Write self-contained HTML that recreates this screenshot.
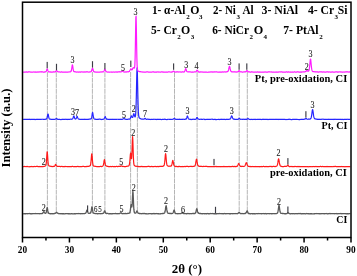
<!DOCTYPE html>
<html><head><meta charset="utf-8"><style>
html,body{margin:0;padding:0;background:#fff;width:357px;height:276px;overflow:hidden;}
svg{display:block;will-change:transform;}
text{font-family:"Liberation Serif",serif;}
</style></head><body>
<svg width="357" height="276" viewBox="0 0 357 276">
<line x1="47.4" y1="72" x2="47.4" y2="213.5" stroke="#a2a2a2" stroke-width="0.8" stroke-dasharray="5 0.6"/>
<line x1="56.3" y1="72" x2="56.3" y2="213.5" stroke="#a2a2a2" stroke-width="0.8" stroke-dasharray="5 0.6"/>
<line x1="92.4" y1="72" x2="92.4" y2="213.5" stroke="#a2a2a2" stroke-width="0.8" stroke-dasharray="5 0.6"/>
<line x1="104.9" y1="72" x2="104.9" y2="213.5" stroke="#a2a2a2" stroke-width="0.8" stroke-dasharray="5 0.6"/>
<line x1="130.6" y1="72" x2="130.6" y2="213.5" stroke="#a2a2a2" stroke-width="0.8" stroke-dasharray="5 0.6"/>
<line x1="137.4" y1="72" x2="137.4" y2="213.5" stroke="#a2a2a2" stroke-width="0.8" stroke-dasharray="5 0.6"/>
<line x1="174.5" y1="72" x2="174.5" y2="213.5" stroke="#a2a2a2" stroke-width="0.8" stroke-dasharray="5 0.6"/>
<line x1="197.1" y1="72" x2="197.1" y2="213.5" stroke="#a2a2a2" stroke-width="0.8" stroke-dasharray="5 0.6"/>
<line x1="239.2" y1="72" x2="239.2" y2="213.5" stroke="#a2a2a2" stroke-width="0.8" stroke-dasharray="5 0.6"/>
<line x1="247.3" y1="72" x2="247.3" y2="213.5" stroke="#a2a2a2" stroke-width="0.8" stroke-dasharray="5 0.6"/>
<path d="M23.10 213.59 L23.35 213.69 L23.60 213.73 L23.85 213.83 L24.10 213.72 L24.35 213.64 L24.60 213.73 L24.85 213.76 L25.10 213.68 L25.35 213.73 L25.60 213.69 L25.85 213.77 L26.10 213.64 L26.35 213.59 L26.60 213.74 L26.85 213.68 L27.10 213.62 L27.35 213.73 L27.60 213.75 L27.85 213.64 L28.10 213.67 L28.35 213.72 L28.60 213.62 L28.85 213.69 L29.10 213.59 L29.35 213.59 L29.60 213.52 L29.85 213.51 L30.10 213.71 L30.35 213.68 L30.60 213.81 L30.85 213.75 L31.10 213.75 L31.35 213.83 L31.60 213.82 L31.85 213.67 L32.10 213.70 L32.35 213.73 L32.60 213.63 L32.85 213.55 L33.10 213.70 L33.35 213.70 L33.60 213.62 L33.85 213.63 L34.10 213.58 L34.35 213.70 L34.60 213.70 L34.85 213.59 L35.10 213.71 L35.35 213.59 L35.60 213.57 L35.85 213.49 L36.10 213.63 L36.35 213.55 L36.60 213.61 L36.85 213.53 L37.10 213.58 L37.35 213.67 L37.60 213.68 L37.85 213.67 L38.10 213.67 L38.35 213.65 L38.60 213.68 L38.85 213.57 L39.10 213.60 L39.35 213.55 L39.60 213.69 L39.85 213.79 L40.10 213.62 L40.35 213.53 L40.60 213.63 L40.85 213.64 L41.10 213.50 L41.35 213.59 L41.60 213.70 L41.85 213.62 L42.10 213.52 L42.35 213.48 L42.60 213.47 L42.85 213.13 L43.10 212.69 L43.35 212.13 L43.60 211.74 L43.85 211.60 L44.10 211.83 L44.35 212.32 L44.60 212.66 L44.85 212.96 L45.10 213.29 L45.35 213.33 L45.60 213.21 L45.85 213.19 L46.10 212.75 L46.35 211.93 L46.60 210.56 L46.85 208.89 L47.10 207.61 L47.35 207.79 L47.60 209.41 L47.85 210.97 L48.10 212.10 L48.35 212.84 L48.60 213.29 L48.85 213.36 L49.10 213.51 L49.35 213.50 L49.60 213.55 L49.85 213.59 L50.10 213.71 L50.35 213.74 L50.60 213.70 L50.85 213.76 L51.10 213.67 L51.35 213.63 L51.60 213.75 L51.85 213.72 L52.10 213.76 L52.35 213.67 L52.60 213.77 L52.85 213.75 L53.10 213.64 L53.35 213.75 L53.60 213.70 L53.85 213.63 L54.10 213.56 L54.35 213.47 L54.60 213.44 L54.85 213.53 L55.10 213.40 L55.35 213.29 L55.60 213.14 L55.85 212.89 L56.10 212.50 L56.35 212.29 L56.60 212.17 L56.85 212.43 L57.10 212.81 L57.35 213.06 L57.60 213.25 L57.85 213.34 L58.10 213.53 L58.35 213.49 L58.60 213.60 L58.85 213.55 L59.10 213.63 L59.35 213.69 L59.60 213.64 L59.85 213.77 L60.10 213.77 L60.35 213.75 L60.60 213.60 L60.85 213.61 L61.10 213.57 L61.35 213.61 L61.60 213.75 L61.85 213.82 L62.10 213.65 L62.35 213.71 L62.60 213.81 L62.85 213.77 L63.10 213.63 L63.35 213.75 L63.60 213.71 L63.85 213.82 L64.10 213.87 L64.35 213.88 L64.60 213.92 L64.85 213.71 L65.10 213.78 L65.35 213.69 L65.60 213.59 L65.85 213.60 L66.10 213.66 L66.35 213.54 L66.60 213.59 L66.85 213.70 L67.10 213.70 L67.35 213.70 L67.60 213.64 L67.85 213.78 L68.10 213.68 L68.35 213.73 L68.60 213.75 L68.85 213.60 L69.10 213.76 L69.35 213.66 L69.60 213.80 L69.85 213.87 L70.10 213.90 L70.35 213.91 L70.60 213.80 L70.85 213.74 L71.10 213.68 L71.35 213.80 L71.60 213.63 L71.85 213.56 L72.10 213.73 L72.35 213.79 L72.60 213.81 L72.85 213.88 L73.10 213.81 L73.35 213.85 L73.60 213.77 L73.85 213.84 L74.10 213.67 L74.35 213.66 L74.60 213.69 L74.85 213.76 L75.10 213.71 L75.35 213.75 L75.60 213.85 L75.85 213.76 L76.10 213.65 L76.35 213.54 L76.60 213.69 L76.85 213.68 L77.10 213.65 L77.35 213.67 L77.60 213.57 L77.85 213.54 L78.10 213.53 L78.35 213.52 L78.60 213.68 L78.85 213.61 L79.10 213.53 L79.35 213.68 L79.60 213.69 L79.85 213.56 L80.10 213.65 L80.35 213.70 L80.60 213.73 L80.85 213.77 L81.10 213.71 L81.35 213.61 L81.60 213.69 L81.85 213.71 L82.10 213.74 L82.35 213.61 L82.60 213.59 L82.85 213.65 L83.10 213.61 L83.35 213.64 L83.60 213.61 L83.85 213.67 L84.10 213.59 L84.35 213.57 L84.60 213.63 L84.85 213.51 L85.10 213.38 L85.35 213.36 L85.60 213.11 L85.85 212.95 L86.10 212.39 L86.35 211.81 L86.60 210.97 L86.85 210.22 L87.10 210.17 L87.35 210.78 L87.60 211.56 L87.85 212.31 L88.10 212.78 L88.35 213.22 L88.60 213.26 L88.85 213.42 L89.10 213.30 L89.35 213.34 L89.60 213.23 L89.85 213.15 L90.10 213.19 L90.35 213.22 L90.60 212.91 L90.85 212.41 L91.10 211.54 L91.35 210.18 L91.60 208.39 L91.85 206.90 L92.10 206.86 L92.35 208.13 L92.60 209.84 L92.85 211.42 L93.10 212.52 L93.35 212.98 L93.60 213.10 L93.85 213.22 L94.10 213.45 L94.35 213.39 L94.60 213.38 L94.85 213.53 L95.10 213.45 L95.35 213.60 L95.60 213.53 L95.85 213.53 L96.10 213.59 L96.35 213.50 L96.60 213.62 L96.85 213.61 L97.10 213.69 L97.35 213.74 L97.60 213.59 L97.85 213.69 L98.10 213.76 L98.35 213.65 L98.60 213.67 L98.85 213.58 L99.10 213.62 L99.35 213.70 L99.60 213.64 L99.85 213.65 L100.10 213.55 L100.35 213.68 L100.60 213.70 L100.85 213.76 L101.10 213.59 L101.35 213.67 L101.60 213.54 L101.85 213.58 L102.10 213.51 L102.35 213.63 L102.60 213.49 L102.85 213.47 L103.10 213.43 L103.35 213.29 L103.60 212.96 L103.85 212.64 L104.10 212.14 L104.35 211.31 L104.60 210.86 L104.85 210.84 L105.10 211.40 L105.35 212.15 L105.60 212.89 L105.85 213.31 L106.10 213.50 L106.35 213.43 L106.60 213.49 L106.85 213.42 L107.10 213.38 L107.35 213.45 L107.60 213.46 L107.85 213.43 L108.10 213.52 L108.35 213.65 L108.60 213.76 L108.85 213.83 L109.10 213.74 L109.35 213.62 L109.60 213.76 L109.85 213.70 L110.10 213.65 L110.35 213.74 L110.60 213.73 L110.85 213.82 L111.10 213.81 L111.35 213.87 L111.60 213.70 L111.85 213.81 L112.10 213.76 L112.35 213.78 L112.60 213.68 L112.85 213.61 L113.10 213.58 L113.35 213.53 L113.60 213.71 L113.85 213.59 L114.10 213.56 L114.35 213.64 L114.60 213.57 L114.85 213.54 L115.10 213.52 L115.35 213.51 L115.60 213.44 L115.85 213.60 L116.10 213.67 L116.35 213.62 L116.60 213.74 L116.85 213.72 L117.10 213.62 L117.35 213.76 L117.60 213.65 L117.85 213.73 L118.10 213.78 L118.35 213.59 L118.60 213.70 L118.85 213.65 L119.10 213.63 L119.35 213.72 L119.60 213.63 L119.85 213.46 L120.10 213.23 L120.35 213.18 L120.60 212.91 L120.85 212.76 L121.10 212.75 L121.35 213.03 L121.60 213.33 L121.85 213.57 L122.10 213.61 L122.35 213.74 L122.60 213.64 L122.85 213.54 L123.10 213.60 L123.35 213.48 L123.60 213.66 L123.85 213.60 L124.10 213.58 L124.35 213.54 L124.60 213.52 L124.85 213.56 L125.10 213.65 L125.35 213.50 L125.60 213.49 L125.85 213.45 L126.10 213.62 L126.35 213.57 L126.60 213.54 L126.85 213.65 L127.10 213.56 L127.35 213.49 L127.60 213.45 L127.85 213.36 L128.10 213.42 L128.35 213.32 L128.60 213.29 L128.85 213.25 L129.10 213.23 L129.35 213.12 L129.60 212.82 L129.85 212.44 L130.10 211.59 L130.35 210.11 L130.60 207.99 L130.85 205.74 L131.10 204.54 L131.35 205.29 L131.60 206.60 L131.85 207.02 L132.10 205.08 L132.35 200.56 L132.60 194.71 L132.85 191.27 L133.10 193.09 L133.35 198.88 L133.60 204.93 L133.85 209.18 L134.10 211.50 L134.35 212.46 L134.60 212.74 L134.85 213.04 L135.10 212.97 L135.35 212.99 L135.60 213.08 L135.85 212.99 L136.10 212.65 L136.35 212.24 L136.60 211.54 L136.85 210.98 L137.10 210.94 L137.35 211.52 L137.60 211.97 L137.85 212.50 L138.10 212.93 L138.35 213.12 L138.60 213.40 L138.85 213.36 L139.10 213.33 L139.35 213.56 L139.60 213.44 L139.85 213.42 L140.10 213.47 L140.35 213.62 L140.60 213.57 L140.85 213.61 L141.10 213.70 L141.35 213.70 L141.60 213.76 L141.85 213.58 L142.10 213.62 L142.35 213.50 L142.60 213.65 L142.85 213.52 L143.10 213.47 L143.35 213.52 L143.60 213.61 L143.85 213.50 L144.10 213.60 L144.35 213.52 L144.60 213.53 L144.85 213.46 L145.10 213.60 L145.35 213.71 L145.60 213.77 L145.85 213.68 L146.10 213.61 L146.35 213.75 L146.60 213.80 L146.85 213.87 L147.10 213.77 L147.35 213.83 L147.60 213.81 L147.85 213.83 L148.10 213.77 L148.35 213.81 L148.60 213.75 L148.85 213.66 L149.10 213.66 L149.35 213.54 L149.60 213.64 L149.85 213.61 L150.10 213.55 L150.35 213.68 L150.60 213.68 L150.85 213.63 L151.10 213.76 L151.35 213.84 L151.60 213.76 L151.85 213.74 L152.10 213.58 L152.35 213.58 L152.60 213.75 L152.85 213.72 L153.10 213.83 L153.35 213.64 L153.60 213.53 L153.85 213.47 L154.10 213.44 L154.35 213.60 L154.60 213.76 L154.85 213.79 L155.10 213.77 L155.35 213.70 L155.60 213.66 L155.85 213.56 L156.10 213.58 L156.35 213.51 L156.60 213.66 L156.85 213.67 L157.10 213.64 L157.35 213.74 L157.60 213.66 L157.85 213.76 L158.10 213.77 L158.35 213.76 L158.60 213.74 L158.85 213.74 L159.10 213.81 L159.35 213.88 L159.60 213.80 L159.85 213.86 L160.10 213.70 L160.35 213.78 L160.60 213.82 L160.85 213.77 L161.10 213.60 L161.35 213.70 L161.60 213.63 L161.85 213.56 L162.10 213.68 L162.35 213.52 L162.60 213.56 L162.85 213.46 L163.10 213.56 L163.35 213.42 L163.60 213.29 L163.85 213.28 L164.10 213.21 L164.35 213.15 L164.60 212.80 L164.85 212.23 L165.10 211.29 L165.35 209.93 L165.60 208.05 L165.85 206.39 L166.10 205.73 L166.35 206.53 L166.60 208.16 L166.85 209.96 L167.10 211.27 L167.35 212.23 L167.60 212.85 L167.85 212.99 L168.10 213.23 L168.35 213.44 L168.60 213.40 L168.85 213.40 L169.10 213.50 L169.35 213.42 L169.60 213.41 L169.85 213.50 L170.10 213.53 L170.35 213.45 L170.60 213.42 L170.85 213.47 L171.10 213.60 L171.35 213.49 L171.60 213.55 L171.85 213.54 L172.10 213.44 L172.35 213.39 L172.60 213.41 L172.85 213.10 L173.10 212.79 L173.35 212.20 L173.60 211.28 L173.85 210.46 L174.10 210.02 L174.35 210.45 L174.60 211.22 L174.85 212.14 L175.10 212.86 L175.35 213.30 L175.60 213.56 L175.85 213.51 L176.10 213.62 L176.35 213.58 L176.60 213.65 L176.85 213.63 L177.10 213.69 L177.35 213.64 L177.60 213.76 L177.85 213.70 L178.10 213.75 L178.35 213.62 L178.60 213.69 L178.85 213.59 L179.10 213.59 L179.35 213.58 L179.60 213.65 L179.85 213.66 L180.10 213.59 L180.35 213.71 L180.60 213.55 L180.85 213.55 L181.10 213.42 L181.35 213.28 L181.60 213.12 L181.85 213.09 L182.10 212.71 L182.35 212.67 L182.60 212.76 L182.85 213.08 L183.10 213.37 L183.35 213.40 L183.60 213.63 L183.85 213.56 L184.10 213.50 L184.35 213.49 L184.60 213.61 L184.85 213.65 L185.10 213.70 L185.35 213.61 L185.60 213.63 L185.85 213.60 L186.10 213.75 L186.35 213.73 L186.60 213.76 L186.85 213.71 L187.10 213.59 L187.35 213.52 L187.60 213.51 L187.85 213.63 L188.10 213.57 L188.35 213.60 L188.60 213.59 L188.85 213.52 L189.10 213.55 L189.35 213.59 L189.60 213.73 L189.85 213.78 L190.10 213.71 L190.35 213.64 L190.60 213.58 L190.85 213.57 L191.10 213.61 L191.35 213.75 L191.60 213.60 L191.85 213.53 L192.10 213.55 L192.35 213.60 L192.60 213.49 L192.85 213.41 L193.10 213.50 L193.35 213.41 L193.60 213.56 L193.85 213.60 L194.10 213.56 L194.35 213.65 L194.60 213.56 L194.85 213.58 L195.10 213.34 L195.35 213.02 L195.60 212.66 L195.85 212.07 L196.10 211.19 L196.35 209.93 L196.60 209.01 L196.85 208.66 L197.10 209.45 L197.35 210.62 L197.60 211.73 L197.85 212.37 L198.10 212.78 L198.35 213.01 L198.60 213.23 L198.85 213.24 L199.10 213.28 L199.35 213.29 L199.60 213.54 L199.85 213.56 L200.10 213.52 L200.35 213.47 L200.60 213.48 L200.85 213.44 L201.10 213.60 L201.35 213.73 L201.60 213.79 L201.85 213.62 L202.10 213.67 L202.35 213.76 L202.60 213.69 L202.85 213.76 L203.10 213.59 L203.35 213.63 L203.60 213.71 L203.85 213.68 L204.10 213.57 L204.35 213.74 L204.60 213.80 L204.85 213.69 L205.10 213.75 L205.35 213.63 L205.60 213.68 L205.85 213.74 L206.10 213.74 L206.35 213.70 L206.60 213.78 L206.85 213.72 L207.10 213.59 L207.35 213.54 L207.60 213.51 L207.85 213.65 L208.10 213.55 L208.35 213.73 L208.60 213.73 L208.85 213.60 L209.10 213.75 L209.35 213.86 L209.60 213.72 L209.85 213.72 L210.10 213.64 L210.35 213.56 L210.60 213.50 L210.85 213.68 L211.10 213.61 L211.35 213.56 L211.60 213.53 L211.85 213.54 L212.10 213.72 L212.35 213.63 L212.60 213.57 L212.85 213.50 L213.10 213.63 L213.35 213.55 L213.60 213.69 L213.85 213.81 L214.10 213.70 L214.35 213.69 L214.60 213.77 L214.85 213.74 L215.10 213.67 L215.35 213.79 L215.60 213.88 L215.85 213.74 L216.10 213.81 L216.35 213.64 L216.60 213.75 L216.85 213.69 L217.10 213.82 L217.35 213.64 L217.60 213.59 L217.85 213.60 L218.10 213.64 L218.35 213.73 L218.60 213.62 L218.85 213.53 L219.10 213.53 L219.35 213.49 L219.60 213.69 L219.85 213.70 L220.10 213.62 L220.35 213.60 L220.60 213.58 L220.85 213.61 L221.10 213.60 L221.35 213.67 L221.60 213.60 L221.85 213.69 L222.10 213.80 L222.35 213.82 L222.60 213.66 L222.85 213.67 L223.10 213.76 L223.35 213.62 L223.60 213.77 L223.85 213.63 L224.10 213.55 L224.35 213.48 L224.60 213.66 L224.85 213.55 L225.10 213.60 L225.35 213.66 L225.60 213.67 L225.85 213.81 L226.10 213.79 L226.35 213.62 L226.60 213.62 L226.85 213.56 L227.10 213.72 L227.35 213.64 L227.60 213.70 L227.85 213.68 L228.10 213.67 L228.35 213.69 L228.60 213.63 L228.85 213.69 L229.10 213.72 L229.35 213.79 L229.60 213.83 L229.85 213.67 L230.10 213.76 L230.35 213.69 L230.60 213.81 L230.85 213.78 L231.10 213.67 L231.35 213.68 L231.60 213.70 L231.85 213.70 L232.10 213.66 L232.35 213.69 L232.60 213.70 L232.85 213.77 L233.10 213.70 L233.35 213.68 L233.60 213.55 L233.85 213.67 L234.10 213.56 L234.35 213.70 L234.60 213.70 L234.85 213.71 L235.10 213.66 L235.35 213.68 L235.60 213.57 L235.85 213.52 L236.10 213.58 L236.35 213.56 L236.60 213.59 L236.85 213.61 L237.10 213.73 L237.35 213.72 L237.60 213.52 L237.85 213.53 L238.10 213.36 L238.35 213.08 L238.60 212.77 L238.85 212.53 L239.10 212.32 L239.35 212.30 L239.60 212.69 L239.85 213.02 L240.10 213.19 L240.35 213.45 L240.60 213.64 L240.85 213.70 L241.10 213.62 L241.35 213.62 L241.60 213.53 L241.85 213.51 L242.10 213.45 L242.35 213.65 L242.60 213.70 L242.85 213.67 L243.10 213.71 L243.35 213.73 L243.60 213.68 L243.85 213.59 L244.10 213.59 L244.35 213.60 L244.60 213.55 L244.85 213.47 L245.10 213.50 L245.35 213.50 L245.60 213.31 L245.85 213.04 L246.10 212.82 L246.35 212.42 L246.60 211.76 L246.85 211.14 L247.10 210.85 L247.35 211.05 L247.60 211.69 L247.85 212.33 L248.10 212.97 L248.35 213.16 L248.60 213.50 L248.85 213.46 L249.10 213.47 L249.35 213.55 L249.60 213.70 L249.85 213.77 L250.10 213.79 L250.35 213.77 L250.60 213.79 L250.85 213.69 L251.10 213.56 L251.35 213.62 L251.60 213.57 L251.85 213.60 L252.10 213.70 L252.35 213.81 L252.60 213.66 L252.85 213.78 L253.10 213.67 L253.35 213.68 L253.60 213.76 L253.85 213.77 L254.10 213.71 L254.35 213.80 L254.60 213.67 L254.85 213.76 L255.10 213.86 L255.35 213.88 L255.60 213.70 L255.85 213.67 L256.10 213.57 L256.35 213.57 L256.60 213.59 L256.85 213.54 L257.10 213.59 L257.35 213.72 L257.60 213.75 L257.85 213.67 L258.10 213.58 L258.35 213.52 L258.60 213.67 L258.85 213.61 L259.10 213.66 L259.35 213.59 L259.60 213.68 L259.85 213.58 L260.10 213.61 L260.35 213.63 L260.60 213.66 L260.85 213.59 L261.10 213.68 L261.35 213.80 L261.60 213.68 L261.85 213.57 L262.10 213.56 L262.35 213.57 L262.60 213.71 L262.85 213.58 L263.10 213.50 L263.35 213.59 L263.60 213.62 L263.85 213.57 L264.10 213.67 L264.35 213.65 L264.60 213.79 L264.85 213.67 L265.10 213.68 L265.35 213.59 L265.60 213.52 L265.85 213.71 L266.10 213.80 L266.35 213.82 L266.60 213.77 L266.85 213.78 L267.10 213.67 L267.35 213.59 L267.60 213.55 L267.85 213.54 L268.10 213.57 L268.35 213.61 L268.60 213.58 L268.85 213.58 L269.10 213.70 L269.35 213.77 L269.60 213.66 L269.85 213.69 L270.10 213.58 L270.35 213.65 L270.60 213.69 L270.85 213.59 L271.10 213.71 L271.35 213.72 L271.60 213.82 L271.85 213.69 L272.10 213.59 L272.35 213.69 L272.60 213.74 L272.85 213.63 L273.10 213.62 L273.35 213.54 L273.60 213.56 L273.85 213.71 L274.10 213.61 L274.35 213.57 L274.60 213.67 L274.85 213.76 L275.10 213.68 L275.35 213.64 L275.60 213.59 L275.85 213.60 L276.10 213.65 L276.35 213.65 L276.60 213.54 L276.85 213.40 L277.10 213.35 L277.35 213.14 L277.60 212.85 L277.85 211.97 L278.10 210.86 L278.35 209.26 L278.60 207.25 L278.85 205.59 L279.10 205.42 L279.35 206.91 L279.60 208.86 L279.85 210.52 L280.10 211.86 L280.35 212.48 L280.60 212.99 L280.85 213.21 L281.10 213.45 L281.35 213.42 L281.60 213.42 L281.85 213.43 L282.10 213.46 L282.35 213.50 L282.60 213.45 L282.85 213.49 L283.10 213.42 L283.35 213.53 L283.60 213.65 L283.85 213.59 L284.10 213.59 L284.35 213.73 L284.60 213.78 L284.85 213.77 L285.10 213.73 L285.35 213.81 L285.60 213.73 L285.85 213.72 L286.10 213.77 L286.35 213.66 L286.60 213.58 L286.85 213.55 L287.10 213.46 L287.35 213.28 L287.60 212.96 L287.85 212.68 L288.10 212.75 L288.35 212.97 L288.60 213.19 L288.85 213.32 L289.10 213.36 L289.35 213.50 L289.60 213.67 L289.85 213.77 L290.10 213.79 L290.35 213.72 L290.60 213.80 L290.85 213.85 L291.10 213.73 L291.35 213.72 L291.60 213.66 L291.85 213.59 L292.10 213.62 L292.35 213.57 L292.60 213.74 L292.85 213.84 L293.10 213.71 L293.35 213.61 L293.60 213.56 L293.85 213.72 L294.10 213.66 L294.35 213.76 L294.60 213.86 L294.85 213.75 L295.10 213.82 L295.35 213.66 L295.60 213.55 L295.85 213.65 L296.10 213.62 L296.35 213.58 L296.60 213.62 L296.85 213.73 L297.10 213.70 L297.35 213.71 L297.60 213.77 L297.85 213.63 L298.10 213.66 L298.35 213.55 L298.60 213.53 L298.85 213.50 L299.10 213.49 L299.35 213.68 L299.60 213.56 L299.85 213.61 L300.10 213.53 L300.35 213.47 L300.60 213.67 L300.85 213.68 L301.10 213.78 L301.35 213.78 L301.60 213.77 L301.85 213.81 L302.10 213.63 L302.35 213.58 L302.60 213.67 L302.85 213.81 L303.10 213.68 L303.35 213.66 L303.60 213.72 L303.85 213.73 L304.10 213.78 L304.35 213.63 L304.60 213.59 L304.85 213.68 L305.10 213.75 L305.35 213.77 L305.60 213.82 L305.85 213.85 L306.10 213.66 L306.35 213.62 L306.60 213.54 L306.85 213.50 L307.10 213.64 L307.35 213.63 L307.60 213.76 L307.85 213.61 L308.10 213.63 L308.35 213.78 L308.60 213.71 L308.85 213.76 L309.10 213.83 L309.35 213.86 L309.60 213.75 L309.85 213.71 L310.10 213.78 L310.35 213.75 L310.60 213.71 L310.85 213.82 L311.10 213.71 L311.35 213.76 L311.60 213.69 L311.85 213.73 L312.10 213.78 L312.35 213.85 L312.60 213.87 L312.85 213.80 L313.10 213.78 L313.35 213.80 L313.60 213.82 L313.85 213.89 L314.10 213.68 L314.35 213.56 L314.60 213.74 L314.85 213.76 L315.10 213.63 L315.35 213.60 L315.60 213.55 L315.85 213.56 L316.10 213.52 L316.35 213.65 L316.60 213.58 L316.85 213.61 L317.10 213.53 L317.35 213.57 L317.60 213.56 L317.85 213.62 L318.10 213.59 L318.35 213.56 L318.60 213.58 L318.85 213.74 L319.10 213.85 L319.35 213.70 L319.60 213.76 L319.85 213.62 L320.10 213.60 L320.35 213.71 L320.60 213.77 L320.85 213.79 L321.10 213.75 L321.35 213.72 L321.60 213.59 L321.85 213.68 L322.10 213.72 L322.35 213.68 L322.60 213.59 L322.85 213.57 L323.10 213.70 L323.35 213.59 L323.60 213.66 L323.85 213.75 L324.10 213.79 L324.35 213.72 L324.60 213.76 L324.85 213.66 L325.10 213.62 L325.35 213.69 L325.60 213.59 L325.85 213.64 L326.10 213.71 L326.35 213.58 L326.60 213.51 L326.85 213.67 L327.10 213.76 L327.35 213.86 L327.60 213.69 L327.85 213.78 L328.10 213.77 L328.35 213.75 L328.60 213.65 L328.85 213.63 L329.10 213.58 L329.35 213.50 L329.60 213.63 L329.85 213.55 L330.10 213.50 L330.35 213.66 L330.60 213.76 L330.85 213.63 L331.10 213.64 L331.35 213.57 L331.60 213.58 L331.85 213.62 L332.10 213.59 L332.35 213.59 L332.60 213.62 L332.85 213.71 L333.10 213.63 L333.35 213.57 L333.60 213.61 L333.85 213.59 L334.10 213.56 L334.35 213.53 L334.60 213.68 L334.85 213.77 L335.10 213.64 L335.35 213.70 L335.60 213.69 L335.85 213.58 L336.10 213.51 L336.35 213.72 L336.60 213.61 L336.85 213.65 L337.10 213.72 L337.35 213.78 L337.60 213.80 L337.85 213.65 L338.10 213.64 L338.35 213.56 L338.60 213.67 L338.85 213.76 L339.10 213.67 L339.35 213.70 L339.60 213.63 L339.85 213.63 L340.10 213.57 L340.35 213.58 L340.60 213.53 L340.85 213.47 L341.10 213.54 L341.35 213.69 L341.60 213.73 L341.85 213.76 L342.10 213.73 L342.35 213.63 L342.60 213.59 L342.85 213.53 L343.10 213.62 L343.35 213.56 L343.60 213.66 L343.85 213.55 L344.10 213.67 L344.35 213.62 L344.60 213.56 L344.85 213.60 L345.10 213.57 L345.35 213.70 L345.60 213.74 L345.85 213.71 L346.10 213.72 L346.35 213.78 L346.60 213.79 L346.85 213.73 L347.10 213.73 L347.35 213.70 L347.60 213.74 L347.85 213.80 L348.10 213.83 L348.35 213.90 L348.60 213.69 L348.85 213.58 L349.10 213.53 L349.35 213.71 L349.60 213.67 L349.85 213.68 L350.10 213.68 L350.35 213.68" fill="none" stroke="#5a5a5a" stroke-width="1.3" stroke-linejoin="round"/>
<path d="M23.10 166.53 L23.35 166.60 L23.60 166.65 L23.85 166.72 L24.10 166.59 L24.35 166.52 L24.60 166.45 L24.85 166.44 L25.10 166.56 L25.35 166.48 L25.60 166.53 L25.85 166.48 L26.10 166.47 L26.35 166.50 L26.60 166.63 L26.85 166.64 L27.10 166.49 L27.35 166.47 L27.60 166.43 L27.85 166.59 L28.10 166.67 L28.35 166.72 L28.60 166.75 L28.85 166.75 L29.10 166.81 L29.35 166.80 L29.60 166.65 L29.85 166.72 L30.10 166.66 L30.35 166.70 L30.60 166.67 L30.85 166.62 L31.10 166.57 L31.35 166.56 L31.60 166.52 L31.85 166.45 L32.10 166.59 L32.35 166.67 L32.60 166.76 L32.85 166.74 L33.10 166.69 L33.35 166.72 L33.60 166.57 L33.85 166.62 L34.10 166.59 L34.35 166.50 L34.60 166.46 L34.85 166.51 L35.10 166.47 L35.35 166.51 L35.60 166.56 L35.85 166.54 L36.10 166.46 L36.35 166.50 L36.60 166.46 L36.85 166.44 L37.10 166.41 L37.35 166.44 L37.60 166.38 L37.85 166.49 L38.10 166.64 L38.35 166.58 L38.60 166.63 L38.85 166.72 L39.10 166.53 L39.35 166.45 L39.60 166.57 L39.85 166.65 L40.10 166.65 L40.35 166.51 L40.60 166.50 L40.85 166.61 L41.10 166.68 L41.35 166.70 L41.60 166.54 L41.85 166.62 L42.10 166.54 L42.35 166.57 L42.60 166.44 L42.85 166.57 L43.10 166.54 L43.35 166.55 L43.60 166.41 L43.85 166.42 L44.10 166.40 L44.35 166.36 L44.60 166.26 L44.85 166.25 L45.10 166.09 L45.35 165.90 L45.60 165.61 L45.85 165.27 L46.10 164.24 L46.35 162.32 L46.60 159.07 L46.85 155.07 L47.10 151.91 L47.35 152.36 L47.60 155.85 L47.85 159.91 L48.10 162.84 L48.35 164.44 L48.60 165.18 L48.85 165.78 L49.10 165.89 L49.35 166.00 L49.60 166.07 L49.85 166.22 L50.10 166.17 L50.35 166.26 L50.60 166.29 L50.85 166.44 L51.10 166.32 L51.35 166.33 L51.60 166.39 L51.85 166.55 L52.10 166.53 L52.35 166.50 L52.60 166.54 L52.85 166.46 L53.10 166.34 L53.35 166.39 L53.60 166.51 L53.85 166.53 L54.10 166.38 L54.35 166.32 L54.60 166.20 L54.85 165.75 L55.10 165.30 L55.35 164.76 L55.60 164.48 L55.85 164.69 L56.10 165.13 L56.35 165.63 L56.60 165.90 L56.85 166.15 L57.10 166.21 L57.35 166.41 L57.60 166.48 L57.85 166.37 L58.10 166.51 L58.35 166.44 L58.60 166.48 L58.85 166.52 L59.10 166.49 L59.35 166.46 L59.60 166.49 L59.85 166.42 L60.10 166.58 L60.35 166.47 L60.60 166.60 L60.85 166.51 L61.10 166.48 L61.35 166.49 L61.60 166.40 L61.85 166.37 L62.10 166.42 L62.35 166.47 L62.60 166.61 L62.85 166.73 L63.10 166.55 L63.35 166.57 L63.60 166.48 L63.85 166.60 L64.10 166.54 L64.35 166.66 L64.60 166.64 L64.85 166.52 L65.10 166.41 L65.35 166.42 L65.60 166.58 L65.85 166.49 L66.10 166.52 L66.35 166.51 L66.60 166.50 L66.85 166.61 L67.10 166.53 L67.35 166.61 L67.60 166.64 L67.85 166.73 L68.10 166.68 L68.35 166.75 L68.60 166.67 L68.85 166.66 L69.10 166.66 L69.35 166.72 L69.60 166.77 L69.85 166.59 L70.10 166.50 L70.35 166.54 L70.60 166.64 L70.85 166.63 L71.10 166.56 L71.35 166.69 L71.60 166.59 L71.85 166.48 L72.10 166.40 L72.35 166.35 L72.60 166.51 L72.85 166.43 L73.10 166.55 L73.35 166.66 L73.60 166.76 L73.85 166.77 L74.10 166.68 L74.35 166.67 L74.60 166.72 L74.85 166.72 L75.10 166.61 L75.35 166.67 L75.60 166.53 L75.85 166.50 L76.10 166.66 L76.35 166.62 L76.60 166.55 L76.85 166.63 L77.10 166.60 L77.35 166.46 L77.60 166.38 L77.85 166.40 L78.10 166.43 L78.35 166.60 L78.60 166.53 L78.85 166.64 L79.10 166.71 L79.35 166.63 L79.60 166.74 L79.85 166.74 L80.10 166.67 L80.35 166.57 L80.60 166.56 L80.85 166.67 L81.10 166.64 L81.35 166.53 L81.60 166.51 L81.85 166.53 L82.10 166.46 L82.35 166.52 L82.60 166.41 L82.85 166.56 L83.10 166.47 L83.35 166.40 L83.60 166.48 L83.85 166.46 L84.10 166.60 L84.35 166.57 L84.60 166.57 L84.85 166.64 L85.10 166.52 L85.35 166.59 L85.60 166.60 L85.85 166.55 L86.10 166.65 L86.35 166.46 L86.60 166.57 L86.85 166.44 L87.10 166.54 L87.35 166.41 L87.60 166.30 L87.85 166.35 L88.10 166.47 L88.35 166.36 L88.60 166.34 L88.85 166.34 L89.10 166.21 L89.35 166.18 L89.60 165.97 L89.85 165.89 L90.10 165.79 L90.35 165.36 L90.60 164.51 L90.85 162.95 L91.10 160.65 L91.35 157.47 L91.60 154.63 L91.85 153.76 L92.10 155.57 L92.35 158.94 L92.60 161.95 L92.85 164.00 L93.10 165.18 L93.35 165.74 L93.60 166.04 L93.85 166.18 L94.10 166.26 L94.35 166.23 L94.60 166.19 L94.85 166.33 L95.10 166.39 L95.35 166.29 L95.60 166.39 L95.85 166.44 L96.10 166.46 L96.35 166.54 L96.60 166.61 L96.85 166.53 L97.10 166.60 L97.35 166.56 L97.60 166.55 L97.85 166.51 L98.10 166.62 L98.35 166.56 L98.60 166.66 L98.85 166.55 L99.10 166.58 L99.35 166.65 L99.60 166.64 L99.85 166.54 L100.10 166.41 L100.35 166.43 L100.60 166.42 L100.85 166.51 L101.10 166.55 L101.35 166.62 L101.60 166.51 L101.85 166.41 L102.10 166.38 L102.35 166.37 L102.60 166.13 L102.85 165.92 L103.10 165.55 L103.35 164.94 L103.60 163.85 L103.85 162.45 L104.10 160.61 L104.35 159.69 L104.60 160.09 L104.85 161.62 L105.10 163.49 L105.35 164.65 L105.60 165.37 L105.85 165.75 L106.10 165.92 L106.35 166.09 L106.60 166.15 L106.85 166.18 L107.10 166.16 L107.35 166.34 L107.60 166.28 L107.85 166.29 L108.10 166.40 L108.35 166.54 L108.60 166.58 L108.85 166.61 L109.10 166.63 L109.35 166.67 L109.60 166.71 L109.85 166.55 L110.10 166.43 L110.35 166.51 L110.60 166.53 L110.85 166.54 L111.10 166.62 L111.35 166.51 L111.60 166.58 L111.85 166.55 L112.10 166.53 L112.35 166.47 L112.60 166.45 L112.85 166.51 L113.10 166.55 L113.35 166.66 L113.60 166.56 L113.85 166.62 L114.10 166.49 L114.35 166.56 L114.60 166.47 L114.85 166.60 L115.10 166.70 L115.35 166.58 L115.60 166.65 L115.85 166.54 L116.10 166.49 L116.35 166.41 L116.60 166.45 L116.85 166.39 L117.10 166.51 L117.35 166.54 L117.60 166.52 L117.85 166.59 L118.10 166.50 L118.35 166.47 L118.60 166.46 L118.85 166.36 L119.10 166.52 L119.35 166.41 L119.60 166.33 L119.85 166.46 L120.10 166.50 L120.35 166.37 L120.60 166.21 L120.85 165.97 L121.10 165.76 L121.35 165.85 L121.60 165.95 L121.85 166.06 L122.10 166.35 L122.35 166.30 L122.60 166.35 L122.85 166.48 L123.10 166.55 L123.35 166.42 L123.60 166.51 L123.85 166.51 L124.10 166.53 L124.35 166.62 L124.60 166.64 L124.85 166.59 L125.10 166.60 L125.35 166.53 L125.60 166.49 L125.85 166.54 L126.10 166.50 L126.35 166.41 L126.60 166.25 L126.85 166.34 L127.10 166.26 L127.35 166.22 L127.60 166.13 L127.85 166.12 L128.10 166.03 L128.35 166.03 L128.60 165.90 L128.85 165.68 L129.10 165.36 L129.35 164.58 L129.60 163.20 L129.85 160.97 L130.10 157.84 L130.35 154.62 L130.60 153.06 L130.85 154.23 L131.10 156.88 L131.35 158.74 L131.60 158.35 L131.85 154.70 L132.10 147.85 L132.35 140.29 L132.60 136.55 L132.85 140.42 L133.10 148.63 L133.35 156.24 L133.60 161.37 L133.85 163.83 L134.10 165.04 L134.35 165.49 L134.60 165.76 L134.85 165.79 L135.10 165.92 L135.35 166.13 L135.60 166.25 L135.85 166.29 L136.10 166.29 L136.35 166.20 L136.60 166.32 L136.85 166.34 L137.10 166.43 L137.35 166.46 L137.60 166.43 L137.85 166.54 L138.10 166.41 L138.35 166.56 L138.60 166.42 L138.85 166.57 L139.10 166.56 L139.35 166.53 L139.60 166.63 L139.85 166.59 L140.10 166.56 L140.35 166.43 L140.60 166.55 L140.85 166.58 L141.10 166.49 L141.35 166.41 L141.60 166.44 L141.85 166.59 L142.10 166.67 L142.35 166.61 L142.60 166.46 L142.85 166.58 L143.10 166.49 L143.35 166.58 L143.60 166.57 L143.85 166.68 L144.10 166.54 L144.35 166.62 L144.60 166.65 L144.85 166.49 L145.10 166.53 L145.35 166.49 L145.60 166.57 L145.85 166.69 L146.10 166.68 L146.35 166.63 L146.60 166.63 L146.85 166.54 L147.10 166.54 L147.35 166.45 L147.60 166.55 L147.85 166.44 L148.10 166.50 L148.35 166.44 L148.60 166.51 L148.85 166.41 L149.10 166.35 L149.35 166.47 L149.60 166.57 L149.85 166.67 L150.10 166.67 L150.35 166.76 L150.60 166.59 L150.85 166.61 L151.10 166.63 L151.35 166.52 L151.60 166.44 L151.85 166.42 L152.10 166.49 L152.35 166.59 L152.60 166.64 L152.85 166.63 L153.10 166.49 L153.35 166.58 L153.60 166.57 L153.85 166.48 L154.10 166.54 L154.35 166.48 L154.60 166.46 L154.85 166.49 L155.10 166.58 L155.35 166.47 L155.60 166.48 L155.85 166.44 L156.10 166.53 L156.35 166.62 L156.60 166.53 L156.85 166.59 L157.10 166.56 L157.35 166.48 L157.60 166.44 L157.85 166.49 L158.10 166.58 L158.35 166.59 L158.60 166.43 L158.85 166.54 L159.10 166.54 L159.35 166.51 L159.60 166.43 L159.85 166.44 L160.10 166.50 L160.35 166.43 L160.60 166.34 L160.85 166.48 L161.10 166.44 L161.35 166.31 L161.60 166.44 L161.85 166.30 L162.10 166.26 L162.35 166.29 L162.60 166.30 L162.85 166.34 L163.10 166.13 L163.35 166.06 L163.60 166.01 L163.85 165.71 L164.10 165.29 L164.35 164.39 L164.60 162.93 L164.85 160.72 L165.10 157.68 L165.35 154.91 L165.60 153.58 L165.85 154.92 L166.10 157.75 L166.35 160.71 L166.60 163.03 L166.85 164.47 L167.10 165.38 L167.35 165.66 L167.60 165.91 L167.85 165.92 L168.10 166.07 L168.35 166.19 L168.60 166.17 L168.85 166.30 L169.10 166.28 L169.35 166.21 L169.60 166.17 L169.85 166.23 L170.10 166.22 L170.35 166.10 L170.60 166.08 L170.85 166.20 L171.10 166.06 L171.35 165.87 L171.60 165.39 L171.85 164.51 L172.10 163.46 L172.35 162.02 L172.60 160.75 L172.85 160.50 L173.10 161.35 L173.35 162.57 L173.60 164.05 L173.85 164.89 L174.10 165.47 L174.35 165.84 L174.60 166.16 L174.85 166.32 L175.10 166.43 L175.35 166.41 L175.60 166.53 L175.85 166.41 L176.10 166.56 L176.35 166.41 L176.60 166.35 L176.85 166.48 L177.10 166.56 L177.35 166.59 L177.60 166.50 L177.85 166.61 L178.10 166.58 L178.35 166.49 L178.60 166.40 L178.85 166.59 L179.10 166.45 L179.35 166.42 L179.60 166.43 L179.85 166.58 L180.10 166.66 L180.35 166.71 L180.60 166.68 L180.85 166.50 L181.10 166.59 L181.35 166.49 L181.60 166.64 L181.85 166.73 L182.10 166.55 L182.35 166.62 L182.60 166.53 L182.85 166.44 L183.10 166.59 L183.35 166.56 L183.60 166.51 L183.85 166.55 L184.10 166.44 L184.35 166.47 L184.60 166.55 L184.85 166.65 L185.10 166.52 L185.35 166.64 L185.60 166.51 L185.85 166.45 L186.10 166.45 L186.35 166.41 L186.60 166.36 L186.85 166.48 L187.10 166.49 L187.35 166.43 L187.60 166.49 L187.85 166.42 L188.10 166.52 L188.35 166.66 L188.60 166.61 L188.85 166.56 L189.10 166.53 L189.35 166.50 L189.60 166.49 L189.85 166.43 L190.10 166.42 L190.35 166.51 L190.60 166.51 L190.85 166.40 L191.10 166.35 L191.35 166.50 L191.60 166.46 L191.85 166.56 L192.10 166.56 L192.35 166.55 L192.60 166.47 L192.85 166.47 L193.10 166.42 L193.35 166.40 L193.60 166.49 L193.85 166.30 L194.10 166.18 L194.35 166.24 L194.60 166.20 L194.85 166.00 L195.10 165.60 L195.35 164.71 L195.60 163.66 L195.85 162.07 L196.10 160.58 L196.35 159.33 L196.60 159.20 L196.85 160.24 L197.10 161.73 L197.35 163.30 L197.60 164.59 L197.85 165.33 L198.10 165.77 L198.35 165.99 L198.60 166.07 L198.85 166.14 L199.10 166.34 L199.35 166.50 L199.60 166.45 L199.85 166.40 L200.10 166.39 L200.35 166.52 L200.60 166.45 L200.85 166.39 L201.10 166.39 L201.35 166.34 L201.60 166.32 L201.85 166.34 L202.10 166.46 L202.35 166.61 L202.60 166.52 L202.85 166.48 L203.10 166.53 L203.35 166.42 L203.60 166.37 L203.85 166.46 L204.10 166.49 L204.35 166.48 L204.60 166.49 L204.85 166.40 L205.10 166.40 L205.35 166.38 L205.60 166.39 L205.85 166.35 L206.10 166.52 L206.35 166.42 L206.60 166.46 L206.85 166.42 L207.10 166.40 L207.35 166.54 L207.60 166.68 L207.85 166.76 L208.10 166.64 L208.35 166.63 L208.60 166.59 L208.85 166.48 L209.10 166.50 L209.35 166.56 L209.60 166.54 L209.85 166.63 L210.10 166.60 L210.35 166.54 L210.60 166.66 L210.85 166.65 L211.10 166.56 L211.35 166.68 L211.60 166.63 L211.85 166.64 L212.10 166.61 L212.35 166.70 L212.60 166.71 L212.85 166.65 L213.10 166.59 L213.35 166.66 L213.60 166.72 L213.85 166.69 L214.10 166.75 L214.35 166.69 L214.60 166.63 L214.85 166.56 L215.10 166.51 L215.35 166.45 L215.60 166.62 L215.85 166.62 L216.10 166.50 L216.35 166.46 L216.60 166.49 L216.85 166.61 L217.10 166.70 L217.35 166.72 L217.60 166.61 L217.85 166.58 L218.10 166.70 L218.35 166.63 L218.60 166.65 L218.85 166.51 L219.10 166.53 L219.35 166.56 L219.60 166.68 L219.85 166.76 L220.10 166.76 L220.35 166.65 L220.60 166.72 L220.85 166.78 L221.10 166.59 L221.35 166.57 L221.60 166.59 L221.85 166.54 L222.10 166.49 L222.35 166.60 L222.60 166.52 L222.85 166.56 L223.10 166.45 L223.35 166.49 L223.60 166.65 L223.85 166.50 L224.10 166.43 L224.35 166.60 L224.60 166.70 L224.85 166.66 L225.10 166.58 L225.35 166.53 L225.60 166.61 L225.85 166.62 L226.10 166.59 L226.35 166.64 L226.60 166.51 L226.85 166.51 L227.10 166.64 L227.35 166.73 L227.60 166.67 L227.85 166.71 L228.10 166.76 L228.35 166.69 L228.60 166.55 L228.85 166.46 L229.10 166.55 L229.35 166.52 L229.60 166.55 L229.85 166.44 L230.10 166.61 L230.35 166.54 L230.60 166.59 L230.85 166.62 L231.10 166.56 L231.35 166.49 L231.60 166.54 L231.85 166.50 L232.10 166.42 L232.35 166.39 L232.60 166.34 L232.85 166.53 L233.10 166.46 L233.35 166.61 L233.60 166.62 L233.85 166.71 L234.10 166.63 L234.35 166.53 L234.60 166.42 L234.85 166.49 L235.10 166.55 L235.35 166.57 L235.60 166.64 L235.85 166.46 L236.10 166.49 L236.35 166.50 L236.60 166.54 L236.85 166.34 L237.10 166.31 L237.35 165.91 L237.60 165.61 L237.85 165.09 L238.10 164.53 L238.35 163.88 L238.60 163.52 L238.85 163.56 L239.10 164.01 L239.35 164.60 L239.60 165.12 L239.85 165.53 L240.10 165.89 L240.35 166.26 L240.60 166.44 L240.85 166.36 L241.10 166.43 L241.35 166.35 L241.60 166.35 L241.85 166.53 L242.10 166.46 L242.35 166.35 L242.60 166.41 L242.85 166.44 L243.10 166.44 L243.35 166.54 L243.60 166.48 L243.85 166.38 L244.10 166.26 L244.35 166.23 L244.60 166.16 L244.85 165.91 L245.10 165.48 L245.35 164.85 L245.60 164.24 L245.85 163.56 L246.10 162.88 L246.35 162.72 L246.60 163.01 L246.85 163.65 L247.10 164.35 L247.35 165.12 L247.60 165.75 L247.85 166.09 L248.10 166.29 L248.35 166.46 L248.60 166.44 L248.85 166.44 L249.10 166.39 L249.35 166.52 L249.60 166.57 L249.85 166.55 L250.10 166.62 L250.35 166.69 L250.60 166.51 L250.85 166.45 L251.10 166.48 L251.35 166.56 L251.60 166.49 L251.85 166.50 L252.10 166.57 L252.35 166.51 L252.60 166.58 L252.85 166.46 L253.10 166.48 L253.35 166.55 L253.60 166.65 L253.85 166.62 L254.10 166.65 L254.35 166.66 L254.60 166.67 L254.85 166.62 L255.10 166.55 L255.35 166.46 L255.60 166.61 L255.85 166.67 L256.10 166.67 L256.35 166.70 L256.60 166.61 L256.85 166.51 L257.10 166.55 L257.35 166.55 L257.60 166.60 L257.85 166.69 L258.10 166.62 L258.35 166.57 L258.60 166.63 L258.85 166.71 L259.10 166.68 L259.35 166.67 L259.60 166.74 L259.85 166.79 L260.10 166.58 L260.35 166.71 L260.60 166.55 L260.85 166.58 L261.10 166.58 L261.35 166.71 L261.60 166.59 L261.85 166.47 L262.10 166.63 L262.35 166.60 L262.60 166.58 L262.85 166.56 L263.10 166.51 L263.35 166.42 L263.60 166.50 L263.85 166.46 L264.10 166.51 L264.35 166.67 L264.60 166.76 L264.85 166.64 L265.10 166.57 L265.35 166.48 L265.60 166.55 L265.85 166.48 L266.10 166.42 L266.35 166.59 L266.60 166.60 L266.85 166.70 L267.10 166.57 L267.35 166.49 L267.60 166.54 L267.85 166.61 L268.10 166.51 L268.35 166.54 L268.60 166.57 L268.85 166.57 L269.10 166.52 L269.35 166.53 L269.60 166.44 L269.85 166.38 L270.10 166.34 L270.35 166.52 L270.60 166.47 L270.85 166.55 L271.10 166.45 L271.35 166.59 L271.60 166.45 L271.85 166.57 L272.10 166.57 L272.35 166.66 L272.60 166.71 L272.85 166.51 L273.10 166.39 L273.35 166.37 L273.60 166.30 L273.85 166.48 L274.10 166.38 L274.35 166.46 L274.60 166.57 L274.85 166.57 L275.10 166.63 L275.35 166.57 L275.60 166.44 L275.85 166.50 L276.10 166.31 L276.35 166.24 L276.60 166.09 L276.85 165.91 L277.10 165.50 L277.35 165.01 L277.60 164.10 L277.85 162.66 L278.10 160.90 L278.35 159.43 L278.60 158.82 L278.85 159.27 L279.10 160.91 L279.35 162.46 L279.60 163.79 L279.85 164.78 L280.10 165.42 L280.35 165.82 L280.60 166.17 L280.85 166.16 L281.10 166.29 L281.35 166.34 L281.60 166.28 L281.85 166.47 L282.10 166.58 L282.35 166.50 L282.60 166.59 L282.85 166.54 L283.10 166.57 L283.35 166.66 L283.60 166.64 L283.85 166.55 L284.10 166.42 L284.35 166.45 L284.60 166.50 L284.85 166.44 L285.10 166.49 L285.35 166.37 L285.60 166.36 L285.85 166.40 L286.10 166.42 L286.35 166.46 L286.60 166.32 L286.85 166.15 L287.10 166.02 L287.35 165.62 L287.60 165.18 L287.85 165.04 L288.10 165.12 L288.35 165.51 L288.60 166.01 L288.85 166.37 L289.10 166.54 L289.35 166.68 L289.60 166.71 L289.85 166.61 L290.10 166.70 L290.35 166.54 L290.60 166.47 L290.85 166.51 L291.10 166.43 L291.35 166.51 L291.60 166.55 L291.85 166.48 L292.10 166.58 L292.35 166.47 L292.60 166.51 L292.85 166.48 L293.10 166.63 L293.35 166.52 L293.60 166.51 L293.85 166.60 L294.10 166.54 L294.35 166.64 L294.60 166.52 L294.85 166.43 L295.10 166.37 L295.35 166.47 L295.60 166.51 L295.85 166.55 L296.10 166.56 L296.35 166.67 L296.60 166.56 L296.85 166.48 L297.10 166.46 L297.35 166.60 L297.60 166.68 L297.85 166.54 L298.10 166.43 L298.35 166.62 L298.60 166.73 L298.85 166.62 L299.10 166.62 L299.35 166.49 L299.60 166.53 L299.85 166.47 L300.10 166.57 L300.35 166.49 L300.60 166.55 L300.85 166.52 L301.10 166.54 L301.35 166.68 L301.60 166.65 L301.85 166.75 L302.10 166.75 L302.35 166.61 L302.60 166.54 L302.85 166.65 L303.10 166.70 L303.35 166.56 L303.60 166.66 L303.85 166.58 L304.10 166.60 L304.35 166.70 L304.60 166.77 L304.85 166.61 L305.10 166.51 L305.35 166.48 L305.60 166.56 L305.85 166.69 L306.10 166.70 L306.35 166.72 L306.60 166.76 L306.85 166.69 L307.10 166.62 L307.35 166.69 L307.60 166.68 L307.85 166.75 L308.10 166.82 L308.35 166.72 L308.60 166.63 L308.85 166.52 L309.10 166.57 L309.35 166.53 L309.60 166.51 L309.85 166.55 L310.10 166.63 L310.35 166.66 L310.60 166.63 L310.85 166.65 L311.10 166.66 L311.35 166.75 L311.60 166.73 L311.85 166.77 L312.10 166.63 L312.35 166.71 L312.60 166.54 L312.85 166.64 L313.10 166.50 L313.35 166.57 L313.60 166.52 L313.85 166.46 L314.10 166.58 L314.35 166.49 L314.60 166.58 L314.85 166.48 L315.10 166.45 L315.35 166.48 L315.60 166.55 L315.85 166.61 L316.10 166.57 L316.35 166.68 L316.60 166.52 L316.85 166.47 L317.10 166.49 L317.35 166.56 L317.60 166.62 L317.85 166.71 L318.10 166.63 L318.35 166.65 L318.60 166.68 L318.85 166.56 L319.10 166.54 L319.35 166.55 L319.60 166.59 L319.85 166.60 L320.10 166.51 L320.35 166.46 L320.60 166.47 L320.85 166.41 L321.10 166.56 L321.35 166.68 L321.60 166.71 L321.85 166.59 L322.10 166.62 L322.35 166.49 L322.60 166.45 L322.85 166.45 L323.10 166.53 L323.35 166.58 L323.60 166.60 L323.85 166.51 L324.10 166.54 L324.35 166.63 L324.60 166.72 L324.85 166.63 L325.10 166.61 L325.35 166.70 L325.60 166.54 L325.85 166.59 L326.10 166.49 L326.35 166.61 L326.60 166.65 L326.85 166.52 L327.10 166.43 L327.35 166.61 L327.60 166.56 L327.85 166.59 L328.10 166.62 L328.35 166.58 L328.60 166.48 L328.85 166.59 L329.10 166.55 L329.35 166.55 L329.60 166.65 L329.85 166.74 L330.10 166.63 L330.35 166.57 L330.60 166.66 L330.85 166.62 L331.10 166.71 L331.35 166.63 L331.60 166.50 L331.85 166.48 L332.10 166.63 L332.35 166.64 L332.60 166.75 L332.85 166.77 L333.10 166.75 L333.35 166.61 L333.60 166.58 L333.85 166.46 L334.10 166.47 L334.35 166.45 L334.60 166.62 L334.85 166.52 L335.10 166.51 L335.35 166.42 L335.60 166.40 L335.85 166.53 L336.10 166.53 L336.35 166.56 L336.60 166.66 L336.85 166.69 L337.10 166.58 L337.35 166.65 L337.60 166.68 L337.85 166.67 L338.10 166.64 L338.35 166.73 L338.60 166.71 L338.85 166.55 L339.10 166.66 L339.35 166.68 L339.60 166.58 L339.85 166.66 L340.10 166.75 L340.35 166.75 L340.60 166.68 L340.85 166.74 L341.10 166.57 L341.35 166.46 L341.60 166.49 L341.85 166.54 L342.10 166.60 L342.35 166.64 L342.60 166.63 L342.85 166.58 L343.10 166.65 L343.35 166.65 L343.60 166.55 L343.85 166.59 L344.10 166.58 L344.35 166.67 L344.60 166.69 L344.85 166.78 L345.10 166.78 L345.35 166.71 L345.60 166.71 L345.85 166.61 L346.10 166.62 L346.35 166.74 L346.60 166.58 L346.85 166.57 L347.10 166.56 L347.35 166.63 L347.60 166.54 L347.85 166.61 L348.10 166.50 L348.35 166.66 L348.60 166.53 L348.85 166.59 L349.10 166.66 L349.35 166.65 L349.60 166.57 L349.85 166.54 L350.10 166.67 L350.35 166.63" fill="none" stroke="#ff1a1a" stroke-width="1.2" stroke-linejoin="round"/>
<path d="M23.10 119.39 L23.35 119.43 L23.60 119.46 L23.85 119.34 L24.10 119.23 L24.35 119.27 L24.60 119.26 L24.85 119.40 L25.10 119.45 L25.35 119.45 L25.60 119.45 L25.85 119.47 L26.10 119.35 L26.35 119.35 L26.60 119.28 L26.85 119.43 L27.10 119.30 L27.35 119.42 L27.60 119.30 L27.85 119.39 L28.10 119.35 L28.35 119.34 L28.60 119.45 L28.85 119.30 L29.10 119.22 L29.35 119.40 L29.60 119.40 L29.85 119.29 L30.10 119.46 L30.35 119.55 L30.60 119.39 L30.85 119.37 L31.10 119.28 L31.35 119.28 L31.60 119.36 L31.85 119.28 L32.10 119.38 L32.35 119.27 L32.60 119.23 L32.85 119.38 L33.10 119.36 L33.35 119.35 L33.60 119.39 L33.85 119.39 L34.10 119.36 L34.35 119.25 L34.60 119.36 L34.85 119.50 L35.10 119.58 L35.35 119.55 L35.60 119.45 L35.85 119.39 L36.10 119.44 L36.35 119.46 L36.60 119.33 L36.85 119.28 L37.10 119.29 L37.35 119.33 L37.60 119.44 L37.85 119.42 L38.10 119.28 L38.35 119.41 L38.60 119.38 L38.85 119.39 L39.10 119.31 L39.35 119.32 L39.60 119.31 L39.85 119.41 L40.10 119.29 L40.35 119.34 L40.60 119.27 L40.85 119.36 L41.10 119.24 L41.35 119.24 L41.60 119.25 L41.85 119.33 L42.10 119.23 L42.35 119.27 L42.60 119.23 L42.85 119.22 L43.10 119.26 L43.35 119.42 L43.60 119.38 L43.85 119.48 L44.10 119.33 L44.35 119.43 L44.60 119.34 L44.85 119.23 L45.10 119.30 L45.35 119.38 L45.60 119.17 L45.85 119.09 L46.10 119.14 L46.35 118.99 L46.60 118.74 L46.85 118.26 L47.10 117.50 L47.35 116.50 L47.60 115.27 L47.85 114.20 L48.10 114.01 L48.35 114.86 L48.60 116.25 L48.85 117.56 L49.10 118.43 L49.35 118.87 L49.60 118.98 L49.85 119.11 L50.10 119.16 L50.35 119.24 L50.60 119.20 L50.85 119.36 L51.10 119.44 L51.35 119.30 L51.60 119.26 L51.85 119.38 L52.10 119.31 L52.35 119.44 L52.60 119.40 L52.85 119.43 L53.10 119.45 L53.35 119.33 L53.60 119.28 L53.85 119.24 L54.10 119.32 L54.35 119.37 L54.60 119.25 L54.85 119.36 L55.10 119.29 L55.35 119.14 L55.60 119.03 L55.85 118.97 L56.10 118.70 L56.35 118.50 L56.60 118.56 L56.85 118.80 L57.10 119.03 L57.35 119.15 L57.60 119.27 L57.85 119.43 L58.10 119.48 L58.35 119.45 L58.60 119.38 L58.85 119.34 L59.10 119.41 L59.35 119.41 L59.60 119.27 L59.85 119.36 L60.10 119.47 L60.35 119.51 L60.60 119.56 L60.85 119.60 L61.10 119.52 L61.35 119.54 L61.60 119.44 L61.85 119.31 L62.10 119.30 L62.35 119.28 L62.60 119.43 L62.85 119.46 L63.10 119.44 L63.35 119.45 L63.60 119.32 L63.85 119.35 L64.10 119.42 L64.35 119.37 L64.60 119.31 L64.85 119.31 L65.10 119.29 L65.35 119.37 L65.60 119.28 L65.85 119.21 L66.10 119.23 L66.35 119.34 L66.60 119.42 L66.85 119.44 L67.10 119.53 L67.35 119.43 L67.60 119.28 L67.85 119.31 L68.10 119.31 L68.35 119.25 L68.60 119.33 L68.85 119.30 L69.10 119.25 L69.35 119.24 L69.60 119.40 L69.85 119.24 L70.10 119.24 L70.35 119.21 L70.60 119.17 L70.85 119.20 L71.10 119.15 L71.35 119.30 L71.60 119.26 L71.85 119.27 L72.10 119.10 L72.35 119.00 L72.60 118.82 L72.85 118.49 L73.10 117.72 L73.35 116.83 L73.60 116.10 L73.85 115.89 L74.10 116.30 L74.35 117.19 L74.60 118.06 L74.85 118.54 L75.10 118.87 L75.35 119.02 L75.60 119.11 L75.85 118.95 L76.10 118.67 L76.35 118.09 L76.60 117.45 L76.85 116.66 L77.10 116.33 L77.35 116.64 L77.60 117.33 L77.85 117.98 L78.10 118.48 L78.35 118.86 L78.60 118.99 L78.85 119.00 L79.10 119.20 L79.35 119.19 L79.60 119.35 L79.85 119.36 L80.10 119.32 L80.35 119.42 L80.60 119.49 L80.85 119.39 L81.10 119.27 L81.35 119.34 L81.60 119.43 L81.85 119.43 L82.10 119.47 L82.35 119.40 L82.60 119.42 L82.85 119.33 L83.10 119.32 L83.35 119.30 L83.60 119.29 L83.85 119.29 L84.10 119.40 L84.35 119.30 L84.60 119.24 L84.85 119.22 L85.10 119.40 L85.35 119.39 L85.60 119.26 L85.85 119.38 L86.10 119.47 L86.35 119.50 L86.60 119.40 L86.85 119.44 L87.10 119.35 L87.35 119.24 L87.60 119.37 L87.85 119.44 L88.10 119.31 L88.35 119.41 L88.60 119.24 L88.85 119.20 L89.10 119.10 L89.35 119.07 L89.60 119.04 L89.85 119.15 L90.10 119.09 L90.35 119.01 L90.60 118.92 L90.85 118.83 L91.10 118.80 L91.35 118.46 L91.60 117.63 L91.85 116.52 L92.10 114.87 L92.35 113.16 L92.60 112.39 L92.85 113.21 L93.10 114.97 L93.35 116.58 L93.60 117.79 L93.85 118.46 L94.10 118.85 L94.35 118.99 L94.60 119.06 L94.85 119.14 L95.10 119.24 L95.35 119.19 L95.60 119.34 L95.85 119.32 L96.10 119.41 L96.35 119.42 L96.60 119.50 L96.85 119.48 L97.10 119.40 L97.35 119.35 L97.60 119.37 L97.85 119.42 L98.10 119.48 L98.35 119.33 L98.60 119.22 L98.85 119.17 L99.10 119.13 L99.35 119.10 L99.60 119.07 L99.85 119.11 L100.10 119.10 L100.35 119.25 L100.60 119.32 L100.85 119.45 L101.10 119.52 L101.35 119.51 L101.60 119.56 L101.85 119.34 L102.10 119.25 L102.35 119.38 L102.60 119.33 L102.85 119.23 L103.10 119.29 L103.35 119.22 L103.60 119.18 L103.85 119.00 L104.10 118.71 L104.35 118.22 L104.60 117.67 L104.85 117.06 L105.10 116.61 L105.35 116.68 L105.60 117.35 L105.85 117.98 L106.10 118.49 L106.35 118.98 L106.60 119.17 L106.85 119.28 L107.10 119.17 L107.35 119.15 L107.60 119.22 L107.85 119.32 L108.10 119.41 L108.35 119.45 L108.60 119.37 L108.85 119.33 L109.10 119.43 L109.35 119.53 L109.60 119.46 L109.85 119.34 L110.10 119.38 L110.35 119.38 L110.60 119.34 L110.85 119.28 L111.10 119.28 L111.35 119.34 L111.60 119.25 L111.85 119.31 L112.10 119.45 L112.35 119.48 L112.60 119.37 L112.85 119.35 L113.10 119.25 L113.35 119.36 L113.60 119.40 L113.85 119.30 L114.10 119.34 L114.35 119.37 L114.60 119.39 L114.85 119.35 L115.10 119.31 L115.35 119.29 L115.60 119.45 L115.85 119.37 L116.10 119.37 L116.35 119.36 L116.60 119.27 L116.85 119.28 L117.10 119.24 L117.35 119.24 L117.60 119.25 L117.85 119.25 L118.10 119.41 L118.35 119.33 L118.60 119.30 L118.85 119.36 L119.10 119.33 L119.35 119.34 L119.60 119.38 L119.85 119.25 L120.10 119.33 L120.35 119.23 L120.60 119.21 L120.85 119.34 L121.10 119.46 L121.35 119.45 L121.60 119.31 L121.85 119.29 L122.10 119.22 L122.35 119.32 L122.60 119.20 L122.85 119.06 L123.10 119.01 L123.35 118.86 L123.60 118.62 L123.85 118.39 L124.10 118.48 L124.35 118.59 L124.60 118.93 L124.85 119.05 L125.10 119.15 L125.35 119.18 L125.60 119.27 L125.85 119.34 L126.10 119.24 L126.35 119.25 L126.60 119.31 L126.85 119.28 L127.10 119.30 L127.35 119.30 L127.60 119.32 L127.85 119.23 L128.10 119.16 L128.35 119.03 L128.60 119.17 L128.85 119.21 L129.10 119.11 L129.35 119.18 L129.60 119.15 L129.85 118.85 L130.10 118.69 L130.35 118.22 L130.60 117.57 L130.85 116.79 L131.10 116.16 L131.35 115.84 L131.60 116.11 L131.85 116.69 L132.10 117.25 L132.35 117.50 L132.60 117.38 L132.85 117.06 L133.10 116.14 L133.35 115.00 L133.60 113.99 L133.85 113.74 L134.10 114.14 L134.35 115.07 L134.60 116.11 L134.85 116.76 L135.10 116.91 L135.35 116.32 L135.60 114.68 L135.85 111.20 L136.10 105.11 L136.35 95.55 L136.60 83.55 L136.85 72.60 L137.10 67.79 L137.35 72.52 L137.60 83.65 L137.85 95.51 L138.10 105.20 L138.35 111.39 L138.60 114.99 L138.85 116.78 L139.10 117.60 L139.35 117.97 L139.60 118.10 L139.85 118.33 L140.10 118.47 L140.35 118.59 L140.60 118.60 L140.85 118.85 L141.10 118.91 L141.35 118.97 L141.60 119.09 L141.85 119.19 L142.10 119.17 L142.35 119.16 L142.60 119.24 L142.85 119.16 L143.10 119.26 L143.35 119.08 L143.60 119.17 L143.85 119.12 L144.10 119.04 L144.35 118.99 L144.60 118.63 L144.85 118.36 L145.10 118.34 L145.35 118.49 L145.60 118.71 L145.85 118.99 L146.10 119.17 L146.35 119.33 L146.60 119.36 L146.85 119.30 L147.10 119.24 L147.35 119.15 L147.60 119.12 L147.85 119.07 L148.10 119.30 L148.35 119.21 L148.60 119.28 L148.85 119.20 L149.10 119.38 L149.35 119.37 L149.60 119.27 L149.85 119.39 L150.10 119.46 L150.35 119.54 L150.60 119.39 L150.85 119.35 L151.10 119.39 L151.35 119.32 L151.60 119.35 L151.85 119.41 L152.10 119.45 L152.35 119.50 L152.60 119.51 L152.85 119.39 L153.10 119.45 L153.35 119.40 L153.60 119.30 L153.85 119.20 L154.10 119.30 L154.35 119.29 L154.60 119.21 L154.85 119.27 L155.10 119.29 L155.35 119.27 L155.60 119.33 L155.85 119.36 L156.10 119.37 L156.35 119.50 L156.60 119.56 L156.85 119.43 L157.10 119.51 L157.35 119.40 L157.60 119.51 L157.85 119.34 L158.10 119.31 L158.35 119.45 L158.60 119.46 L158.85 119.48 L159.10 119.36 L159.35 119.27 L159.60 119.43 L159.85 119.30 L160.10 119.24 L160.35 119.28 L160.60 119.40 L160.85 119.44 L161.10 119.55 L161.35 119.56 L161.60 119.47 L161.85 119.54 L162.10 119.43 L162.35 119.29 L162.60 119.45 L162.85 119.52 L163.10 119.51 L163.35 119.45 L163.60 119.35 L163.85 119.29 L164.10 119.21 L164.35 119.17 L164.60 119.25 L164.85 119.41 L165.10 119.51 L165.35 119.46 L165.60 119.48 L165.85 119.43 L166.10 119.48 L166.35 119.50 L166.60 119.58 L166.85 119.59 L167.10 119.56 L167.35 119.51 L167.60 119.37 L167.85 119.37 L168.10 119.36 L168.35 119.28 L168.60 119.24 L168.85 119.27 L169.10 119.23 L169.35 119.32 L169.60 119.30 L169.85 119.46 L170.10 119.47 L170.35 119.44 L170.60 119.39 L170.85 119.36 L171.10 119.28 L171.35 119.44 L171.60 119.51 L171.85 119.49 L172.10 119.47 L172.35 119.32 L172.60 119.32 L172.85 119.21 L173.10 119.14 L173.35 119.08 L173.60 118.83 L173.85 118.55 L174.10 118.44 L174.35 118.38 L174.60 118.64 L174.85 118.76 L175.10 118.89 L175.35 119.21 L175.60 119.32 L175.85 119.39 L176.10 119.40 L176.35 119.29 L176.60 119.45 L176.85 119.41 L177.10 119.50 L177.35 119.36 L177.60 119.30 L177.85 119.35 L178.10 119.29 L178.35 119.42 L178.60 119.34 L178.85 119.24 L179.10 119.21 L179.35 119.21 L179.60 119.40 L179.85 119.49 L180.10 119.49 L180.35 119.42 L180.60 119.28 L180.85 119.41 L181.10 119.29 L181.35 119.25 L181.60 119.28 L181.85 119.41 L182.10 119.31 L182.35 119.21 L182.60 119.38 L182.85 119.24 L183.10 119.35 L183.35 119.25 L183.60 119.23 L183.85 119.20 L184.10 119.23 L184.35 119.38 L184.60 119.43 L184.85 119.38 L185.10 119.22 L185.35 119.13 L185.60 119.08 L185.85 119.14 L186.10 119.09 L186.35 118.63 L186.60 118.09 L186.85 117.50 L187.10 116.56 L187.35 115.97 L187.60 116.19 L187.85 117.10 L188.10 117.84 L188.35 118.54 L188.60 118.80 L188.85 119.08 L189.10 119.09 L189.35 119.21 L189.60 119.31 L189.85 119.42 L190.10 119.37 L190.35 119.48 L190.60 119.40 L190.85 119.50 L191.10 119.55 L191.35 119.60 L191.60 119.40 L191.85 119.32 L192.10 119.39 L192.35 119.48 L192.60 119.36 L192.85 119.43 L193.10 119.39 L193.35 119.24 L193.60 119.18 L193.85 119.11 L194.10 119.13 L194.35 119.32 L194.60 119.37 L194.85 119.43 L195.10 119.48 L195.35 119.35 L195.60 119.32 L195.85 119.21 L196.10 119.02 L196.35 118.53 L196.60 118.17 L196.85 117.57 L197.10 117.35 L197.35 117.64 L197.60 118.18 L197.85 118.71 L198.10 118.94 L198.35 119.08 L198.60 119.26 L198.85 119.18 L199.10 119.35 L199.35 119.30 L199.60 119.29 L199.85 119.27 L200.10 119.36 L200.35 119.28 L200.60 119.22 L200.85 119.17 L201.10 119.15 L201.35 119.27 L201.60 119.44 L201.85 119.29 L202.10 119.31 L202.35 119.30 L202.60 119.28 L202.85 119.28 L203.10 119.22 L203.35 119.27 L203.60 119.25 L203.85 119.19 L204.10 119.17 L204.35 119.37 L204.60 119.44 L204.85 119.54 L205.10 119.56 L205.35 119.56 L205.60 119.42 L205.85 119.30 L206.10 119.47 L206.35 119.48 L206.60 119.51 L206.85 119.37 L207.10 119.45 L207.35 119.44 L207.60 119.31 L207.85 119.27 L208.10 119.44 L208.35 119.45 L208.60 119.32 L208.85 119.24 L209.10 119.37 L209.35 119.34 L209.60 119.35 L209.85 119.27 L210.10 119.24 L210.35 119.30 L210.60 119.32 L210.85 119.26 L211.10 119.22 L211.35 119.28 L211.60 119.22 L211.85 119.17 L212.10 119.25 L212.35 119.19 L212.60 119.33 L212.85 119.43 L213.10 119.47 L213.35 119.56 L213.60 119.40 L213.85 119.38 L214.10 119.36 L214.35 119.26 L214.60 119.41 L214.85 119.28 L215.10 119.45 L215.35 119.47 L215.60 119.57 L215.85 119.38 L216.10 119.49 L216.35 119.57 L216.60 119.57 L216.85 119.52 L217.10 119.51 L217.35 119.46 L217.60 119.52 L217.85 119.49 L218.10 119.46 L218.35 119.41 L218.60 119.44 L218.85 119.44 L219.10 119.54 L219.35 119.55 L219.60 119.44 L219.85 119.48 L220.10 119.37 L220.35 119.37 L220.60 119.39 L220.85 119.45 L221.10 119.31 L221.35 119.25 L221.60 119.22 L221.85 119.32 L222.10 119.26 L222.35 119.32 L222.60 119.45 L222.85 119.40 L223.10 119.32 L223.35 119.37 L223.60 119.35 L223.85 119.35 L224.10 119.27 L224.35 119.36 L224.60 119.33 L224.85 119.47 L225.10 119.43 L225.35 119.46 L225.60 119.53 L225.85 119.59 L226.10 119.38 L226.35 119.48 L226.60 119.33 L226.85 119.46 L227.10 119.49 L227.35 119.37 L227.60 119.41 L227.85 119.39 L228.10 119.35 L228.35 119.36 L228.60 119.32 L228.85 119.34 L229.10 119.35 L229.35 119.16 L229.60 119.19 L229.85 119.18 L230.10 119.13 L230.35 118.87 L230.60 118.48 L230.85 117.81 L231.10 117.05 L231.35 116.46 L231.60 115.85 L231.85 116.05 L232.10 116.49 L232.35 117.24 L232.60 117.98 L232.85 118.38 L233.10 118.75 L233.35 119.06 L233.60 119.13 L233.85 119.11 L234.10 119.07 L234.35 119.28 L234.60 119.19 L234.85 119.29 L235.10 119.34 L235.35 119.28 L235.60 119.31 L235.85 119.37 L236.10 119.28 L236.35 119.23 L236.60 119.39 L236.85 119.29 L237.10 119.30 L237.35 119.29 L237.60 119.35 L237.85 119.39 L238.10 119.33 L238.35 119.16 L238.60 118.91 L238.85 118.52 L239.10 118.38 L239.35 118.40 L239.60 118.68 L239.85 118.88 L240.10 118.98 L240.35 119.12 L240.60 119.31 L240.85 119.34 L241.10 119.39 L241.35 119.26 L241.60 119.23 L241.85 119.22 L242.10 119.28 L242.35 119.21 L242.60 119.39 L242.85 119.34 L243.10 119.22 L243.35 119.21 L243.60 119.28 L243.85 119.35 L244.10 119.44 L244.35 119.30 L244.60 119.45 L244.85 119.51 L245.10 119.46 L245.35 119.46 L245.60 119.36 L245.85 119.26 L246.10 119.16 L246.35 119.34 L246.60 119.40 L246.85 119.27 L247.10 119.15 L247.35 118.92 L247.60 118.71 L247.85 118.37 L248.10 118.44 L248.35 118.53 L248.60 118.83 L248.85 119.08 L249.10 119.31 L249.35 119.38 L249.60 119.29 L249.85 119.41 L250.10 119.36 L250.35 119.38 L250.60 119.46 L250.85 119.55 L251.10 119.38 L251.35 119.37 L251.60 119.33 L251.85 119.44 L252.10 119.39 L252.35 119.50 L252.60 119.53 L252.85 119.45 L253.10 119.50 L253.35 119.50 L253.60 119.36 L253.85 119.32 L254.10 119.25 L254.35 119.39 L254.60 119.37 L254.85 119.32 L255.10 119.41 L255.35 119.53 L255.60 119.38 L255.85 119.44 L256.10 119.35 L256.35 119.44 L256.60 119.49 L256.85 119.52 L257.10 119.49 L257.35 119.35 L257.60 119.46 L257.85 119.33 L258.10 119.38 L258.35 119.51 L258.60 119.40 L258.85 119.39 L259.10 119.44 L259.35 119.46 L259.60 119.39 L259.85 119.37 L260.10 119.48 L260.35 119.51 L260.60 119.38 L260.85 119.43 L261.10 119.51 L261.35 119.49 L261.60 119.56 L261.85 119.43 L262.10 119.36 L262.35 119.47 L262.60 119.38 L262.85 119.29 L263.10 119.24 L263.35 119.40 L263.60 119.48 L263.85 119.37 L264.10 119.44 L264.35 119.34 L264.60 119.40 L264.85 119.27 L265.10 119.34 L265.35 119.43 L265.60 119.42 L265.85 119.44 L266.10 119.32 L266.35 119.34 L266.60 119.44 L266.85 119.39 L267.10 119.46 L267.35 119.46 L267.60 119.51 L267.85 119.53 L268.10 119.42 L268.35 119.50 L268.60 119.54 L268.85 119.46 L269.10 119.49 L269.35 119.43 L269.60 119.44 L269.85 119.37 L270.10 119.37 L270.35 119.33 L270.60 119.46 L270.85 119.47 L271.10 119.47 L271.35 119.45 L271.60 119.42 L271.85 119.32 L272.10 119.39 L272.35 119.38 L272.60 119.34 L272.85 119.37 L273.10 119.28 L273.35 119.37 L273.60 119.45 L273.85 119.40 L274.10 119.31 L274.35 119.47 L274.60 119.47 L274.85 119.39 L275.10 119.29 L275.35 119.35 L275.60 119.29 L275.85 119.44 L276.10 119.48 L276.35 119.39 L276.60 119.37 L276.85 119.27 L277.10 119.25 L277.35 119.32 L277.60 119.45 L277.85 119.41 L278.10 119.53 L278.35 119.41 L278.60 119.30 L278.85 119.43 L279.10 119.38 L279.35 119.33 L279.60 119.34 L279.85 119.39 L280.10 119.32 L280.35 119.25 L280.60 119.33 L280.85 119.40 L281.10 119.41 L281.35 119.32 L281.60 119.44 L281.85 119.41 L282.10 119.41 L282.35 119.51 L282.60 119.37 L282.85 119.38 L283.10 119.36 L283.35 119.41 L283.60 119.33 L283.85 119.29 L284.10 119.26 L284.35 119.33 L284.60 119.30 L284.85 119.45 L285.10 119.53 L285.35 119.53 L285.60 119.45 L285.85 119.52 L286.10 119.49 L286.35 119.52 L286.60 119.59 L286.85 119.41 L287.10 119.47 L287.35 119.55 L287.60 119.46 L287.85 119.39 L288.10 119.27 L288.35 119.42 L288.60 119.33 L288.85 119.23 L289.10 119.18 L289.35 119.27 L289.60 119.37 L289.85 119.48 L290.10 119.49 L290.35 119.35 L290.60 119.48 L290.85 119.54 L291.10 119.56 L291.35 119.60 L291.60 119.60 L291.85 119.57 L292.10 119.57 L292.35 119.37 L292.60 119.51 L292.85 119.33 L293.10 119.33 L293.35 119.37 L293.60 119.38 L293.85 119.34 L294.10 119.36 L294.35 119.32 L294.60 119.39 L294.85 119.27 L295.10 119.27 L295.35 119.36 L295.60 119.36 L295.85 119.24 L296.10 119.29 L296.35 119.44 L296.60 119.42 L296.85 119.47 L297.10 119.40 L297.35 119.52 L297.60 119.47 L297.85 119.52 L298.10 119.50 L298.35 119.53 L298.60 119.44 L298.85 119.53 L299.10 119.60 L299.35 119.61 L299.60 119.63 L299.85 119.49 L300.10 119.40 L300.35 119.49 L300.60 119.53 L300.85 119.49 L301.10 119.45 L301.35 119.29 L301.60 119.33 L301.85 119.23 L302.10 119.28 L302.35 119.24 L302.60 119.31 L302.85 119.23 L303.10 119.23 L303.35 119.34 L303.60 119.35 L303.85 119.23 L304.10 119.38 L304.35 119.20 L304.60 119.16 L304.85 119.15 L305.10 119.01 L305.35 118.80 L305.60 118.63 L305.85 118.32 L306.10 118.39 L306.35 118.55 L306.60 118.85 L306.85 119.02 L307.10 119.17 L307.35 119.29 L307.60 119.27 L307.85 119.24 L308.10 119.24 L308.35 119.13 L308.60 119.26 L308.85 119.18 L309.10 119.15 L309.35 119.21 L309.60 119.21 L309.85 119.23 L310.10 119.12 L310.35 118.95 L310.60 118.70 L310.85 118.44 L311.10 117.89 L311.35 116.84 L311.60 115.56 L311.85 113.86 L312.10 111.82 L312.35 110.19 L312.60 109.50 L312.85 110.28 L313.10 111.89 L313.35 113.91 L313.60 115.65 L313.85 116.91 L314.10 117.74 L314.35 118.19 L314.60 118.65 L314.85 118.78 L315.10 118.87 L315.35 118.91 L315.60 119.03 L315.85 119.09 L316.10 119.24 L316.35 119.13 L316.60 119.13 L316.85 119.28 L317.10 119.35 L317.35 119.21 L317.60 119.23 L317.85 119.39 L318.10 119.49 L318.35 119.37 L318.60 119.42 L318.85 119.34 L319.10 119.22 L319.35 119.37 L319.60 119.26 L319.85 119.43 L320.10 119.38 L320.35 119.46 L320.60 119.41 L320.85 119.50 L321.10 119.51 L321.35 119.36 L321.60 119.24 L321.85 119.20 L322.10 119.30 L322.35 119.22 L322.60 119.17 L322.85 119.22 L323.10 119.16 L323.35 119.20 L323.60 119.30 L323.85 119.26 L324.10 119.38 L324.35 119.32 L324.60 119.31 L324.85 119.31 L325.10 119.43 L325.35 119.29 L325.60 119.41 L325.85 119.29 L326.10 119.45 L326.35 119.44 L326.60 119.48 L326.85 119.45 L327.10 119.47 L327.35 119.48 L327.60 119.35 L327.85 119.28 L328.10 119.43 L328.35 119.34 L328.60 119.29 L328.85 119.21 L329.10 119.34 L329.35 119.43 L329.60 119.29 L329.85 119.43 L330.10 119.31 L330.35 119.34 L330.60 119.36 L330.85 119.31 L331.10 119.30 L331.35 119.33 L331.60 119.43 L331.85 119.35 L332.10 119.30 L332.35 119.46 L332.60 119.37 L332.85 119.27 L333.10 119.44 L333.35 119.53 L333.60 119.40 L333.85 119.40 L334.10 119.50 L334.35 119.41 L334.60 119.36 L334.85 119.24 L335.10 119.21 L335.35 119.31 L335.60 119.34 L335.85 119.46 L336.10 119.42 L336.35 119.35 L336.60 119.34 L336.85 119.27 L337.10 119.31 L337.35 119.40 L337.60 119.31 L337.85 119.37 L338.10 119.51 L338.35 119.52 L338.60 119.42 L338.85 119.45 L339.10 119.32 L339.35 119.25 L339.60 119.39 L339.85 119.45 L340.10 119.46 L340.35 119.45 L340.60 119.39 L340.85 119.48 L341.10 119.45 L341.35 119.51 L341.60 119.53 L341.85 119.43 L342.10 119.50 L342.35 119.42 L342.60 119.44 L342.85 119.51 L343.10 119.59 L343.35 119.54 L343.60 119.40 L343.85 119.31 L344.10 119.43 L344.35 119.37 L344.60 119.29 L344.85 119.35 L345.10 119.35 L345.35 119.43 L345.60 119.33 L345.85 119.36 L346.10 119.50 L346.35 119.37 L346.60 119.35 L346.85 119.34 L347.10 119.27 L347.35 119.22 L347.60 119.24 L347.85 119.32 L348.10 119.25 L348.35 119.35 L348.60 119.33 L348.85 119.31 L349.10 119.44 L349.35 119.48 L349.60 119.43 L349.85 119.36 L350.10 119.38 L350.35 119.42" fill="none" stroke="#2626ff" stroke-width="1.2" stroke-linejoin="round"/>
<path d="M23.10 72.03 L23.35 72.06 L23.60 72.16 L23.85 72.11 L24.10 72.09 L24.35 72.09 L24.60 71.99 L24.85 72.02 L25.10 72.06 L25.35 72.13 L25.60 71.99 L25.85 71.96 L26.10 71.89 L26.35 72.03 L26.60 72.09 L26.85 71.95 L27.10 72.12 L27.35 72.21 L27.60 72.19 L27.85 72.16 L28.10 72.02 L28.35 71.91 L28.60 71.97 L28.85 71.88 L29.10 71.87 L29.35 71.87 L29.60 71.82 L29.85 71.90 L30.10 71.94 L30.35 72.07 L30.60 72.07 L30.85 72.10 L31.10 72.08 L31.35 72.11 L31.60 72.07 L31.85 72.00 L32.10 72.15 L32.35 72.24 L32.60 72.25 L32.85 72.22 L33.10 72.10 L33.35 72.01 L33.60 71.97 L33.85 71.88 L34.10 72.02 L34.35 72.00 L34.60 72.11 L34.85 72.05 L35.10 72.17 L35.35 72.21 L35.60 72.01 L35.85 71.95 L36.10 72.09 L36.35 72.06 L36.60 72.18 L36.85 72.10 L37.10 71.96 L37.35 72.03 L37.60 72.11 L37.85 72.02 L38.10 71.92 L38.35 71.92 L38.60 72.09 L38.85 72.14 L39.10 72.00 L39.35 71.95 L39.60 71.88 L39.85 71.82 L40.10 71.99 L40.35 71.92 L40.60 71.98 L40.85 71.99 L41.10 71.92 L41.35 72.03 L41.60 71.93 L41.85 72.00 L42.10 71.91 L42.35 71.93 L42.60 71.89 L42.85 71.88 L43.10 72.05 L43.35 72.11 L43.60 72.01 L43.85 72.10 L44.10 71.98 L44.35 71.94 L44.60 72.04 L44.85 72.03 L45.10 71.87 L45.35 71.99 L45.60 71.81 L45.85 71.64 L46.10 71.50 L46.35 71.02 L46.60 70.34 L46.85 69.50 L47.10 68.90 L47.35 69.07 L47.60 69.67 L47.85 70.50 L48.10 71.09 L48.35 71.48 L48.60 71.83 L48.85 71.89 L49.10 71.95 L49.35 72.05 L49.60 71.94 L49.85 71.87 L50.10 72.02 L50.35 72.10 L50.60 71.99 L50.85 71.91 L51.10 72.01 L51.35 72.13 L51.60 72.00 L51.85 72.12 L52.10 72.18 L52.35 72.14 L52.60 72.06 L52.85 71.94 L53.10 71.84 L53.35 72.03 L53.60 71.94 L53.85 72.01 L54.10 71.93 L54.35 72.03 L54.60 72.02 L54.85 71.91 L55.10 71.79 L55.35 71.78 L55.60 71.47 L55.85 71.15 L56.10 70.85 L56.35 70.65 L56.60 70.63 L56.85 70.82 L57.10 71.32 L57.35 71.52 L57.60 71.61 L57.85 71.72 L58.10 71.83 L58.35 71.78 L58.60 71.79 L58.85 71.84 L59.10 71.93 L59.35 71.86 L59.60 71.89 L59.85 72.04 L60.10 72.16 L60.35 72.14 L60.60 72.15 L60.85 72.12 L61.10 71.98 L61.35 71.88 L61.60 71.81 L61.85 72.00 L62.10 72.06 L62.35 72.17 L62.60 71.98 L62.85 72.04 L63.10 72.03 L63.35 72.08 L63.60 72.01 L63.85 72.15 L64.10 71.98 L64.35 72.01 L64.60 72.07 L64.85 72.16 L65.10 72.16 L65.35 72.16 L65.60 72.17 L65.85 72.22 L66.10 72.09 L66.35 72.10 L66.60 72.17 L66.85 72.20 L67.10 72.09 L67.35 72.12 L67.60 72.16 L67.85 72.10 L68.10 72.08 L68.35 71.99 L68.60 71.99 L68.85 71.99 L69.10 71.84 L69.35 71.89 L69.60 72.00 L69.85 72.02 L70.10 71.97 L70.35 71.81 L70.60 71.75 L70.85 71.56 L71.10 71.18 L71.35 70.60 L71.60 69.30 L71.85 67.74 L72.10 65.78 L72.35 64.75 L72.60 65.26 L72.85 66.87 L73.10 68.74 L73.35 70.10 L73.60 70.96 L73.85 71.50 L74.10 71.61 L74.35 71.59 L74.60 71.65 L74.85 71.80 L75.10 71.77 L75.35 71.75 L75.60 71.93 L75.85 71.99 L76.10 71.96 L76.35 72.07 L76.60 71.99 L76.85 72.03 L77.10 71.94 L77.35 71.94 L77.60 72.05 L77.85 72.14 L78.10 72.19 L78.35 72.08 L78.60 72.08 L78.85 72.00 L79.10 71.91 L79.35 71.95 L79.60 72.07 L79.85 72.14 L80.10 72.15 L80.35 72.22 L80.60 72.08 L80.85 71.97 L81.10 71.98 L81.35 71.94 L81.60 71.90 L81.85 71.92 L82.10 72.00 L82.35 72.01 L82.60 71.96 L82.85 72.08 L83.10 72.18 L83.35 72.11 L83.60 71.96 L83.85 71.86 L84.10 72.03 L84.35 71.90 L84.60 72.01 L84.85 72.03 L85.10 71.98 L85.35 72.07 L85.60 71.92 L85.85 71.87 L86.10 71.91 L86.35 71.83 L86.60 71.99 L86.85 71.93 L87.10 71.87 L87.35 71.80 L87.60 71.92 L87.85 71.94 L88.10 71.99 L88.35 72.03 L88.60 72.09 L88.85 72.17 L89.10 72.13 L89.35 71.98 L89.60 71.96 L89.85 71.85 L90.10 71.74 L90.35 71.77 L90.60 71.83 L90.85 71.68 L91.10 71.52 L91.35 71.25 L91.60 70.83 L91.85 70.04 L92.10 69.07 L92.35 68.29 L92.60 68.14 L92.85 68.94 L93.10 70.02 L93.35 70.70 L93.60 71.38 L93.85 71.71 L94.10 71.73 L94.35 71.81 L94.60 71.90 L94.85 72.03 L95.10 71.97 L95.35 71.99 L95.60 72.08 L95.85 72.12 L96.10 72.19 L96.35 72.10 L96.60 72.10 L96.85 71.98 L97.10 72.05 L97.35 72.11 L97.60 72.11 L97.85 72.13 L98.10 72.00 L98.35 72.11 L98.60 72.20 L98.85 72.25 L99.10 72.16 L99.35 72.18 L99.60 72.06 L99.85 72.15 L100.10 72.18 L100.35 72.07 L100.60 71.93 L100.85 71.94 L101.10 71.97 L101.35 72.05 L101.60 72.01 L101.85 71.87 L102.10 71.98 L102.35 71.85 L102.60 71.95 L102.85 71.83 L103.10 71.78 L103.35 71.82 L103.60 71.58 L103.85 71.25 L104.10 70.85 L104.35 70.26 L104.60 69.60 L104.85 69.16 L105.10 69.44 L105.35 70.05 L105.60 70.86 L105.85 71.24 L106.10 71.50 L106.35 71.72 L106.60 71.77 L106.85 71.91 L107.10 71.97 L107.35 71.98 L107.60 72.07 L107.85 72.05 L108.10 71.98 L108.35 71.96 L108.60 72.07 L108.85 72.15 L109.10 72.01 L109.35 72.10 L109.60 72.19 L109.85 72.13 L110.10 72.10 L110.35 71.99 L110.60 72.01 L110.85 72.01 L111.10 72.04 L111.35 71.91 L111.60 72.08 L111.85 72.06 L112.10 72.02 L112.35 72.10 L112.60 72.08 L112.85 72.06 L113.10 72.09 L113.35 71.95 L113.60 71.99 L113.85 71.98 L114.10 72.11 L114.35 72.19 L114.60 72.06 L114.85 72.04 L115.10 71.93 L115.35 71.95 L115.60 72.06 L115.85 72.15 L116.10 72.09 L116.35 72.01 L116.60 71.93 L116.85 71.99 L117.10 72.11 L117.35 71.97 L117.60 72.06 L117.85 71.91 L118.10 71.87 L118.35 71.85 L118.60 71.96 L118.85 71.93 L119.10 71.91 L119.35 71.98 L119.60 71.87 L119.85 71.98 L120.10 71.87 L120.35 71.91 L120.60 71.86 L120.85 71.80 L121.10 71.83 L121.35 71.77 L121.60 71.63 L121.85 71.43 L122.10 71.22 L122.35 70.93 L122.60 70.87 L122.85 71.14 L123.10 71.45 L123.35 71.66 L123.60 71.89 L123.85 71.95 L124.10 72.05 L124.35 71.94 L124.60 72.00 L124.85 72.05 L125.10 72.11 L125.35 71.99 L125.60 71.91 L125.85 72.02 L126.10 71.90 L126.35 72.03 L126.60 72.07 L126.85 71.90 L127.10 71.81 L127.35 71.88 L127.60 71.79 L127.85 71.68 L128.10 71.80 L128.35 71.74 L128.60 71.78 L128.85 71.58 L129.10 71.47 L129.35 71.36 L129.60 70.93 L129.85 70.48 L130.10 70.05 L130.35 69.58 L130.60 69.17 L130.85 68.81 L131.10 68.98 L131.35 69.41 L131.60 69.72 L131.85 69.92 L132.10 69.75 L132.35 69.37 L132.60 68.87 L132.85 68.30 L133.10 67.93 L133.35 67.69 L133.60 67.71 L133.85 67.82 L134.10 68.03 L134.35 68.04 L134.60 67.51 L134.85 65.05 L135.10 58.69 L135.35 46.68 L135.60 30.71 L135.85 17.52 L136.10 16.05 L136.35 27.92 L136.60 44.07 L136.85 57.18 L137.10 64.93 L137.35 68.51 L137.60 70.00 L137.85 70.47 L138.10 70.89 L138.35 71.20 L138.60 71.24 L138.85 71.36 L139.10 71.53 L139.35 71.56 L139.60 71.54 L139.85 71.53 L140.10 71.63 L140.35 71.57 L140.60 71.77 L140.85 71.88 L141.10 71.92 L141.35 72.00 L141.60 71.99 L141.85 71.92 L142.10 71.94 L142.35 71.93 L142.60 72.06 L142.85 72.09 L143.10 71.96 L143.35 72.06 L143.60 72.08 L143.85 72.11 L144.10 72.13 L144.35 72.04 L144.60 72.12 L144.85 72.16 L145.10 72.14 L145.35 72.15 L145.60 72.15 L145.85 72.06 L146.10 72.09 L146.35 71.94 L146.60 71.92 L146.85 71.94 L147.10 71.84 L147.35 71.86 L147.60 71.96 L147.85 72.01 L148.10 71.94 L148.35 72.08 L148.60 72.10 L148.85 72.02 L149.10 72.06 L149.35 72.06 L149.60 72.05 L149.85 72.01 L150.10 72.14 L150.35 72.13 L150.60 72.14 L150.85 72.16 L151.10 72.23 L151.35 72.02 L151.60 72.05 L151.85 72.10 L152.10 72.01 L152.35 71.99 L152.60 71.88 L152.85 71.86 L153.10 71.89 L153.35 71.84 L153.60 71.85 L153.85 72.03 L154.10 72.04 L154.35 72.04 L154.60 72.16 L154.85 72.12 L155.10 72.22 L155.35 72.18 L155.60 72.20 L155.85 72.02 L156.10 72.05 L156.35 72.11 L156.60 71.96 L156.85 72.10 L157.10 71.98 L157.35 72.00 L157.60 71.92 L157.85 71.97 L158.10 72.02 L158.35 71.91 L158.60 72.08 L158.85 72.04 L159.10 72.04 L159.35 72.07 L159.60 72.02 L159.85 71.97 L160.10 72.04 L160.35 72.05 L160.60 71.99 L160.85 72.06 L161.10 72.00 L161.35 71.89 L161.60 71.88 L161.85 71.82 L162.10 71.82 L162.35 71.97 L162.60 71.97 L162.85 72.10 L163.10 72.14 L163.35 71.98 L163.60 72.13 L163.85 72.21 L164.10 72.03 L164.35 72.14 L164.60 72.08 L164.85 72.06 L165.10 72.17 L165.35 72.05 L165.60 72.05 L165.85 72.16 L166.10 72.17 L166.35 72.11 L166.60 72.20 L166.85 72.22 L167.10 72.17 L167.35 72.02 L167.60 72.06 L167.85 72.03 L168.10 71.96 L168.35 71.87 L168.60 71.94 L168.85 71.88 L169.10 71.92 L169.35 72.01 L169.60 72.00 L169.85 71.95 L170.10 72.00 L170.35 71.99 L170.60 72.07 L170.85 72.05 L171.10 72.17 L171.35 72.22 L171.60 72.19 L171.85 72.03 L172.10 71.88 L172.35 71.96 L172.60 71.91 L172.85 71.73 L173.10 71.42 L173.35 71.10 L173.60 71.06 L173.85 71.18 L174.10 71.43 L174.35 71.69 L174.60 71.90 L174.85 71.88 L175.10 71.88 L175.35 72.06 L175.60 72.15 L175.85 72.20 L176.10 72.00 L176.35 71.89 L176.60 71.88 L176.85 71.92 L177.10 71.99 L177.35 71.90 L177.60 71.96 L177.85 71.87 L178.10 71.82 L178.35 71.95 L178.60 71.99 L178.85 72.04 L179.10 72.00 L179.35 72.00 L179.60 71.93 L179.85 71.93 L180.10 72.03 L180.35 72.11 L180.60 71.96 L180.85 71.88 L181.10 72.01 L181.35 72.04 L181.60 72.09 L181.85 71.98 L182.10 71.96 L182.35 71.90 L182.60 72.01 L182.85 71.95 L183.10 71.98 L183.35 72.08 L183.60 71.95 L183.85 71.91 L184.10 71.89 L184.35 71.83 L184.60 71.47 L184.85 70.93 L185.10 70.09 L185.35 69.37 L185.60 68.62 L185.85 68.62 L186.10 69.42 L186.35 70.30 L186.60 71.05 L186.85 71.42 L187.10 71.75 L187.35 71.73 L187.60 71.75 L187.85 71.88 L188.10 71.81 L188.35 71.82 L188.60 71.95 L188.85 72.02 L189.10 71.95 L189.35 71.88 L189.60 71.89 L189.85 72.00 L190.10 71.97 L190.35 71.88 L190.60 71.99 L190.85 72.02 L191.10 72.13 L191.35 72.20 L191.60 72.23 L191.85 72.13 L192.10 72.16 L192.35 72.05 L192.60 71.99 L192.85 71.97 L193.10 72.10 L193.35 72.17 L193.60 72.03 L193.85 71.98 L194.10 71.95 L194.35 71.93 L194.60 71.91 L194.85 71.90 L195.10 71.83 L195.35 71.87 L195.60 71.92 L195.85 71.80 L196.10 71.67 L196.35 71.30 L196.60 70.71 L196.85 70.31 L197.10 70.17 L197.35 70.28 L197.60 70.63 L197.85 71.16 L198.10 71.54 L198.35 71.77 L198.60 72.00 L198.85 72.04 L199.10 72.10 L199.35 71.95 L199.60 71.98 L199.85 72.07 L200.10 71.94 L200.35 71.86 L200.60 71.99 L200.85 72.11 L201.10 71.96 L201.35 72.02 L201.60 71.93 L201.85 72.04 L202.10 72.07 L202.35 71.99 L202.60 71.93 L202.85 72.04 L203.10 72.04 L203.35 72.11 L203.60 72.05 L203.85 72.00 L204.10 72.14 L204.35 72.14 L204.60 72.10 L204.85 72.08 L205.10 72.12 L205.35 72.14 L205.60 72.21 L205.85 72.12 L206.10 72.17 L206.35 72.16 L206.60 72.21 L206.85 72.22 L207.10 72.24 L207.35 72.26 L207.60 72.29 L207.85 72.23 L208.10 72.16 L208.35 72.17 L208.60 72.20 L208.85 72.11 L209.10 72.06 L209.35 71.96 L209.60 72.06 L209.85 72.18 L210.10 72.09 L210.35 71.98 L210.60 71.93 L210.85 71.95 L211.10 71.93 L211.35 72.10 L211.60 71.96 L211.85 71.94 L212.10 71.88 L212.35 71.98 L212.60 72.08 L212.85 71.98 L213.10 71.89 L213.35 71.94 L213.60 72.00 L213.85 72.12 L214.10 71.97 L214.35 71.89 L214.60 71.87 L214.85 71.86 L215.10 71.86 L215.35 71.99 L215.60 72.03 L215.85 71.96 L216.10 71.91 L216.35 71.90 L216.60 71.87 L216.85 72.00 L217.10 71.97 L217.35 72.01 L217.60 72.10 L217.85 72.07 L218.10 71.99 L218.35 72.11 L218.60 72.19 L218.85 72.08 L219.10 72.08 L219.35 72.18 L219.60 72.11 L219.85 72.01 L220.10 71.90 L220.35 72.07 L220.60 72.13 L220.85 72.06 L221.10 72.05 L221.35 72.04 L221.60 71.97 L221.85 72.12 L222.10 72.12 L222.35 72.01 L222.60 71.88 L222.85 71.92 L223.10 71.92 L223.35 72.03 L223.60 72.07 L223.85 72.07 L224.10 71.95 L224.35 71.87 L224.60 71.86 L224.85 71.84 L225.10 71.99 L225.35 71.97 L225.60 71.99 L225.85 72.09 L226.10 71.95 L226.35 71.93 L226.60 71.80 L226.85 71.87 L227.10 71.68 L227.35 71.75 L227.60 71.74 L227.85 71.60 L228.10 71.11 L228.35 70.50 L228.60 69.74 L228.85 68.49 L229.10 67.29 L229.35 66.38 L229.60 66.42 L229.85 67.20 L230.10 68.48 L230.35 69.55 L230.60 70.53 L230.85 71.07 L231.10 71.53 L231.35 71.58 L231.60 71.79 L231.85 71.75 L232.10 71.82 L232.35 71.87 L232.60 71.80 L232.85 71.94 L233.10 71.90 L233.35 71.87 L233.60 71.80 L233.85 71.82 L234.10 71.87 L234.35 71.97 L234.60 71.94 L234.85 72.01 L235.10 71.89 L235.35 71.90 L235.60 71.93 L235.85 72.07 L236.10 72.12 L236.35 72.10 L236.60 71.92 L236.85 71.90 L237.10 71.97 L237.35 71.88 L237.60 71.89 L237.85 71.81 L238.10 71.55 L238.35 71.50 L238.60 71.23 L238.85 70.77 L239.10 70.65 L239.35 70.74 L239.60 71.07 L239.85 71.43 L240.10 71.63 L240.35 71.75 L240.60 71.83 L240.85 71.95 L241.10 71.90 L241.35 71.86 L241.60 71.98 L241.85 71.94 L242.10 72.09 L242.35 72.07 L242.60 72.11 L242.85 72.02 L243.10 72.10 L243.35 71.96 L243.60 71.88 L243.85 71.82 L244.10 71.94 L244.35 72.02 L244.60 71.92 L244.85 71.92 L245.10 72.02 L245.35 72.01 L245.60 71.84 L245.85 71.73 L246.10 71.54 L246.35 71.27 L246.60 70.99 L246.85 70.60 L247.10 70.63 L247.35 70.77 L247.60 71.12 L247.85 71.50 L248.10 71.80 L248.35 71.99 L248.60 71.98 L248.85 71.95 L249.10 71.95 L249.35 71.85 L249.60 71.89 L249.85 71.99 L250.10 72.13 L250.35 72.17 L250.60 72.15 L250.85 72.13 L251.10 71.96 L251.35 71.95 L251.60 71.94 L251.85 72.02 L252.10 71.92 L252.35 71.93 L252.60 71.98 L252.85 72.08 L253.10 72.15 L253.35 72.13 L253.60 72.01 L253.85 72.09 L254.10 72.18 L254.35 72.13 L254.60 72.06 L254.85 72.05 L255.10 71.95 L255.35 72.04 L255.60 72.17 L255.85 72.12 L256.10 72.15 L256.35 72.19 L256.60 72.05 L256.85 72.17 L257.10 72.15 L257.35 72.03 L257.60 71.92 L257.85 71.90 L258.10 71.98 L258.35 72.06 L258.60 72.01 L258.85 72.13 L259.10 72.06 L259.35 72.04 L259.60 71.95 L259.85 72.11 L260.10 71.99 L260.35 72.12 L260.60 72.10 L260.85 72.09 L261.10 72.09 L261.35 72.01 L261.60 72.13 L261.85 72.23 L262.10 72.24 L262.35 72.19 L262.60 72.03 L262.85 72.12 L263.10 72.04 L263.35 72.14 L263.60 72.04 L263.85 72.06 L264.10 72.14 L264.35 72.02 L264.60 72.04 L264.85 71.93 L265.10 71.85 L265.35 71.85 L265.60 72.05 L265.85 72.17 L266.10 72.16 L266.35 72.06 L266.60 72.10 L266.85 72.14 L267.10 72.07 L267.35 72.09 L267.60 72.15 L267.85 71.98 L268.10 71.93 L268.35 71.97 L268.60 71.90 L268.85 71.93 L269.10 71.99 L269.35 71.93 L269.60 71.98 L269.85 71.94 L270.10 72.00 L270.35 71.98 L270.60 72.04 L270.85 71.92 L271.10 72.02 L271.35 71.93 L271.60 72.10 L271.85 72.10 L272.10 72.07 L272.35 72.04 L272.60 72.07 L272.85 72.11 L273.10 72.15 L273.35 72.18 L273.60 72.12 L273.85 72.22 L274.10 72.24 L274.35 72.26 L274.60 72.15 L274.85 72.09 L275.10 72.09 L275.35 72.18 L275.60 72.13 L275.85 72.10 L276.10 72.06 L276.35 72.16 L276.60 72.07 L276.85 71.94 L277.10 72.04 L277.35 72.15 L277.60 72.17 L277.85 72.14 L278.10 72.17 L278.35 72.07 L278.60 72.08 L278.85 71.95 L279.10 71.89 L279.35 71.94 L279.60 71.98 L279.85 71.98 L280.10 71.89 L280.35 72.00 L280.60 72.03 L280.85 71.96 L281.10 71.94 L281.35 71.96 L281.60 71.92 L281.85 71.86 L282.10 72.04 L282.35 72.16 L282.60 72.16 L282.85 72.21 L283.10 72.12 L283.35 72.17 L283.60 72.05 L283.85 72.11 L284.10 72.10 L284.35 72.18 L284.60 72.02 L284.85 72.11 L285.10 71.98 L285.35 72.02 L285.60 72.15 L285.85 71.97 L286.10 71.93 L286.35 71.92 L286.60 71.92 L286.85 71.86 L287.10 72.03 L287.35 72.12 L287.60 72.06 L287.85 72.02 L288.10 72.05 L288.35 71.93 L288.60 71.85 L288.85 72.03 L289.10 71.98 L289.35 72.01 L289.60 72.13 L289.85 72.22 L290.10 72.14 L290.35 72.02 L290.60 71.97 L290.85 72.11 L291.10 72.19 L291.35 72.05 L291.60 72.13 L291.85 72.06 L292.10 72.04 L292.35 71.95 L292.60 72.09 L292.85 72.20 L293.10 72.05 L293.35 72.08 L293.60 71.98 L293.85 72.10 L294.10 71.96 L294.35 71.88 L294.60 72.00 L294.85 71.96 L295.10 72.10 L295.35 72.17 L295.60 72.17 L295.85 72.02 L296.10 72.07 L296.35 72.17 L296.60 72.10 L296.85 71.96 L297.10 71.91 L297.35 71.91 L297.60 72.01 L297.85 71.93 L298.10 71.88 L298.35 71.87 L298.60 71.97 L298.85 72.07 L299.10 72.01 L299.35 72.05 L299.60 72.14 L299.85 72.11 L300.10 72.00 L300.35 71.95 L300.60 72.08 L300.85 72.09 L301.10 71.99 L301.35 72.03 L301.60 71.91 L301.85 72.06 L302.10 72.01 L302.35 72.01 L302.60 72.00 L302.85 71.86 L303.10 71.92 L303.35 71.87 L303.60 71.83 L303.85 71.95 L304.10 71.82 L304.35 71.79 L304.60 71.88 L304.85 71.79 L305.10 71.72 L305.35 71.70 L305.60 71.51 L305.85 71.45 L306.10 71.27 L306.35 70.72 L306.60 70.39 L306.85 70.35 L307.10 70.46 L307.35 70.87 L307.60 71.09 L307.85 71.15 L308.10 71.24 L308.35 71.23 L308.60 70.99 L308.85 70.65 L309.10 69.99 L309.35 68.69 L309.60 66.73 L309.85 64.21 L310.10 61.38 L310.35 59.21 L310.60 59.08 L310.85 60.76 L311.10 63.63 L311.35 66.20 L311.60 68.34 L311.85 69.67 L312.10 70.51 L312.35 71.07 L312.60 71.40 L312.85 71.59 L313.10 71.57 L313.35 71.64 L313.60 71.63 L313.85 71.72 L314.10 71.77 L314.35 71.69 L314.60 71.79 L314.85 71.89 L315.10 71.92 L315.35 72.02 L315.60 71.90 L315.85 71.83 L316.10 71.75 L316.35 71.83 L316.60 71.87 L316.85 71.89 L317.10 71.86 L317.35 71.99 L317.60 71.88 L317.85 72.03 L318.10 72.03 L318.35 72.03 L318.60 72.09 L318.85 71.99 L319.10 71.90 L319.35 71.89 L319.60 71.82 L319.85 71.85 L320.10 71.95 L320.35 71.98 L320.60 71.93 L320.85 71.99 L321.10 71.89 L321.35 72.03 L321.60 71.94 L321.85 71.91 L322.10 71.86 L322.35 71.98 L322.60 72.09 L322.85 72.14 L323.10 71.98 L323.35 71.97 L323.60 71.96 L323.85 71.91 L324.10 72.08 L324.35 71.94 L324.60 71.98 L324.85 72.07 L325.10 72.18 L325.35 72.03 L325.60 72.02 L325.85 72.09 L326.10 71.95 L326.35 71.91 L326.60 72.07 L326.85 71.96 L327.10 71.96 L327.35 71.94 L327.60 71.96 L327.85 71.88 L328.10 71.82 L328.35 72.04 L328.60 72.11 L328.85 72.14 L329.10 72.03 L329.35 71.97 L329.60 72.01 L329.85 71.95 L330.10 71.98 L330.35 72.12 L330.60 72.05 L330.85 72.00 L331.10 72.15 L331.35 72.13 L331.60 71.97 L331.85 71.98 L332.10 72.04 L332.35 71.93 L332.60 71.93 L332.85 72.03 L333.10 72.13 L333.35 72.12 L333.60 72.19 L333.85 72.12 L334.10 72.06 L334.35 72.14 L334.60 72.07 L334.85 72.14 L335.10 72.02 L335.35 71.99 L335.60 71.93 L335.85 71.99 L336.10 71.92 L336.35 71.89 L336.60 71.88 L336.85 71.94 L337.10 71.93 L337.35 71.96 L337.60 72.12 L337.85 72.14 L338.10 72.20 L338.35 72.06 L338.60 72.02 L338.85 71.92 L339.10 72.02 L339.35 71.99 L339.60 71.95 L339.85 71.86 L340.10 71.85 L340.35 71.87 L340.60 71.91 L340.85 72.08 L341.10 72.12 L341.35 72.03 L341.60 72.00 L341.85 71.93 L342.10 72.09 L342.35 72.04 L342.60 72.11 L342.85 72.14 L343.10 72.21 L343.35 72.02 L343.60 71.98 L343.85 71.98 L344.10 71.90 L344.35 72.06 L344.60 72.01 L344.85 72.09 L345.10 72.08 L345.35 71.95 L345.60 71.96 L345.85 71.93 L346.10 71.85 L346.35 71.84 L346.60 71.95 L346.85 71.86 L347.10 71.89 L347.35 71.93 L347.60 71.99 L347.85 71.92 L348.10 72.02 L348.35 71.97 L348.60 72.06 L348.85 72.10 L349.10 71.98 L349.35 71.93 L349.60 71.92 L349.85 72.03 L350.10 72.01 L350.35 72.00" fill="none" stroke="#ff1aff" stroke-width="1.2" stroke-linejoin="round"/>
<g font-size="9.8" fill="#151515" stroke="#151515" stroke-width="0.1" text-anchor="middle">
<text transform="translate(72.4 62.6) scale(0.82 1)">3</text>
<text transform="translate(122.9 71) scale(0.82 1)">5</text>
<text transform="translate(135.4 14.5) scale(0.82 1)">3</text>
<text transform="translate(186.2 68.3) scale(0.82 1)">3</text>
<text transform="translate(196.5 68.8) scale(0.82 1)">4</text>
<text transform="translate(229.5 64.8) scale(0.82 1)">3</text>
<text transform="translate(306.8 70.2) scale(0.82 1)">2</text>
<text transform="translate(310.5 57.1) scale(0.82 1)">3</text>
<text transform="translate(73.1 115.0) scale(0.82 1)">3</text>
<text transform="translate(77.0 116.1) scale(0.82 1)">7</text>
<text transform="translate(124 117.7) scale(0.82 1)">5</text>
<text transform="translate(133.8 111.8) scale(0.82 1)">2</text>
<text transform="translate(145.1 116.5) scale(0.82 1)">7</text>
<text transform="translate(187.4 113.8) scale(0.82 1)">3</text>
<text transform="translate(231.7 114.3) scale(0.82 1)">3</text>
<text transform="translate(312.6 108.1) scale(0.82 1)">3</text>
<text transform="translate(43.8 164.9) scale(0.82 1)">2</text>
<text transform="translate(121.2 165) scale(0.82 1)">5</text>
<text transform="translate(133.3 136.4) scale(0.82 1)">2</text>
<text transform="translate(165.9 151.5) scale(0.82 1)">2</text>
<text transform="translate(278.6 156) scale(0.82 1)">2</text>
<text transform="translate(43.8 211) scale(0.82 1)">2</text>
<text transform="translate(95.8 211.9) scale(0.82 1)" font-size="8.4">6</text>
<text transform="translate(99.9 211.6) scale(0.82 1)" font-size="8.4">5</text>
<text transform="translate(121.5 211.7) scale(0.82 1)">5</text>
<text transform="translate(133.8 190.5) scale(0.82 1)">2</text>
<text transform="translate(166.1 203.8) scale(0.82 1)">2</text>
<text transform="translate(182.9 212.9) scale(0.82 1)">6</text>
<text transform="translate(279 205.2) scale(0.82 1)">2</text>
</g>
<rect x="46.62" y="61.90" width="1.15" height="6.4" fill="#3c3c44"/>
<rect x="55.92" y="63.80" width="1.15" height="6.4" fill="#3c3c44"/>
<rect x="91.92" y="61.20" width="1.15" height="6.4" fill="#3c3c44"/>
<rect x="104.33" y="63.00" width="1.15" height="6.4" fill="#3c3c44"/>
<rect x="130.23" y="60.60" width="1.15" height="6.4" fill="#3c3c44"/>
<rect x="173.03" y="63.40" width="1.15" height="6.4" fill="#3c3c44"/>
<rect x="238.53" y="63.40" width="1.15" height="6.4" fill="#3c3c44"/>
<rect x="246.23" y="63.40" width="1.15" height="6.4" fill="#3c3c44"/>
<rect x="305.32" y="111.20" width="1.15" height="6.4" fill="#3c3c44"/>
<rect x="213.43" y="158.90" width="1.15" height="6.4" fill="#3c3c44"/>
<rect x="287.32" y="158.10" width="1.15" height="6.4" fill="#3c3c44"/>
<rect x="87.02" y="205.40" width="1.15" height="6.4" fill="#3c3c44"/>
<rect x="214.93" y="206.80" width="1.15" height="6.4" fill="#3c3c44"/>
<rect x="287.32" y="206.50" width="1.15" height="6.4" fill="#3c3c44"/>
<rect x="22.5" y="2.2" width="328.5" height="235.3" fill="none" stroke="#000" stroke-width="1.5"/>
<line x1="22.50" y1="237.5" x2="22.50" y2="242.5" stroke="#000" stroke-width="1.5"/>
<line x1="69.43" y1="237.5" x2="69.43" y2="242.5" stroke="#000" stroke-width="1.5"/>
<line x1="116.36" y1="237.5" x2="116.36" y2="242.5" stroke="#000" stroke-width="1.5"/>
<line x1="163.29" y1="237.5" x2="163.29" y2="242.5" stroke="#000" stroke-width="1.5"/>
<line x1="210.21" y1="237.5" x2="210.21" y2="242.5" stroke="#000" stroke-width="1.5"/>
<line x1="257.14" y1="237.5" x2="257.14" y2="242.5" stroke="#000" stroke-width="1.5"/>
<line x1="304.07" y1="237.5" x2="304.07" y2="242.5" stroke="#000" stroke-width="1.5"/>
<line x1="351.00" y1="237.5" x2="351.00" y2="242.5" stroke="#000" stroke-width="1.5"/>
<line x1="45.96" y1="237.5" x2="45.96" y2="240.5" stroke="#000" stroke-width="1.5"/>
<line x1="92.89" y1="237.5" x2="92.89" y2="240.5" stroke="#000" stroke-width="1.5"/>
<line x1="139.82" y1="237.5" x2="139.82" y2="240.5" stroke="#000" stroke-width="1.5"/>
<line x1="186.75" y1="237.5" x2="186.75" y2="240.5" stroke="#000" stroke-width="1.5"/>
<line x1="233.68" y1="237.5" x2="233.68" y2="240.5" stroke="#000" stroke-width="1.5"/>
<line x1="280.61" y1="237.5" x2="280.61" y2="240.5" stroke="#000" stroke-width="1.5"/>
<line x1="327.54" y1="237.5" x2="327.54" y2="240.5" stroke="#000" stroke-width="1.5"/>
<g font-weight="bold" font-size="9.3" fill="#000" text-anchor="middle">
<text x="22.50" y="253.2">20</text>
<text x="69.43" y="253.2">30</text>
<text x="116.36" y="253.2">40</text>
<text x="163.29" y="253.2">50</text>
<text x="210.21" y="253.2">60</text>
<text x="257.14" y="253.2">70</text>
<text x="304.07" y="253.2">80</text>
<text x="351.00" y="253.2">90</text>
</g>
<text transform="translate(10.0 128.0) rotate(-90)" font-weight="bold" font-size="12.65" text-anchor="middle">Intensity (a.u.)</text>
<g font-weight="bold" fill="#000">
<text transform="translate(151.90 14.0) scale(0.981 1)" font-size="11.5">1- α-Al</text>
<text x="186.30" y="18.6" font-size="7.0">2</text>
<text transform="translate(190.17 14.0) scale(1.028 1)" font-size="11.5">O</text>
<text x="198.93" y="18.6" font-size="7.0">3</text>
<text transform="translate(213.06 14.0) scale(0.955 1)" font-size="11.5">2- Ni</text>
<text x="236.43" y="18.6" font-size="7.0">3</text>
<text transform="translate(242.44 14.0) scale(0.974 1)" font-size="11.5">Al</text>
<text transform="translate(261.48 14.0) scale(1.034 1)" font-size="11.5">3- NiAl</text>
<text transform="translate(307.88 14.0) scale(1.018 1)" font-size="11.5">4- Cr</text>
<text x="334.43" y="18.6" font-size="7.0">3</text>
<text transform="translate(337.82 14.0) scale(1.015 1)" font-size="11.5">Si</text>
<text x="151.04" y="34.3" font-size="11.5">5- Cr</text>
<text x="177.35" y="38.7" font-size="7.0">2</text>
<text transform="translate(181.07 34.3) scale(1.028 1)" font-size="11.5">O</text>
<text x="190.63" y="38.7" font-size="7.0">3</text>
<text transform="translate(212.16 34.3) scale(0.989 1)" font-size="11.5">6- NiCr</text>
<text x="249.60" y="38.7" font-size="7.0">2</text>
<text transform="translate(253.75 34.3) scale(1.066 1)" font-size="11.5">O</text>
<text x="263.57" y="38.7" font-size="7.0">4</text>
<text transform="translate(283.26 34.3) scale(1.017 1)" font-size="11.5">7- PtAl</text>
<text x="319.35" y="38.7" font-size="7.0">2</text>
<text x="254.74" y="81.5" font-size="10.5">Pt, pre-oxidation, CI</text>
<text transform="translate(321.55 128.9) scale(0.963 1)" font-size="10.5">Pt, CI</text>
<text transform="translate(269.90 175.7) scale(0.995 1)" font-size="10.5">pre-oxidation, CI</text>
<text transform="translate(336.36 223.2) scale(0.911 1)" font-size="10.8">CI</text>
<text transform="translate(171.78 272.6) scale(1.065 1)" font-size="12.2">2θ (°)</text>
</g>
</svg>
</body></html>
